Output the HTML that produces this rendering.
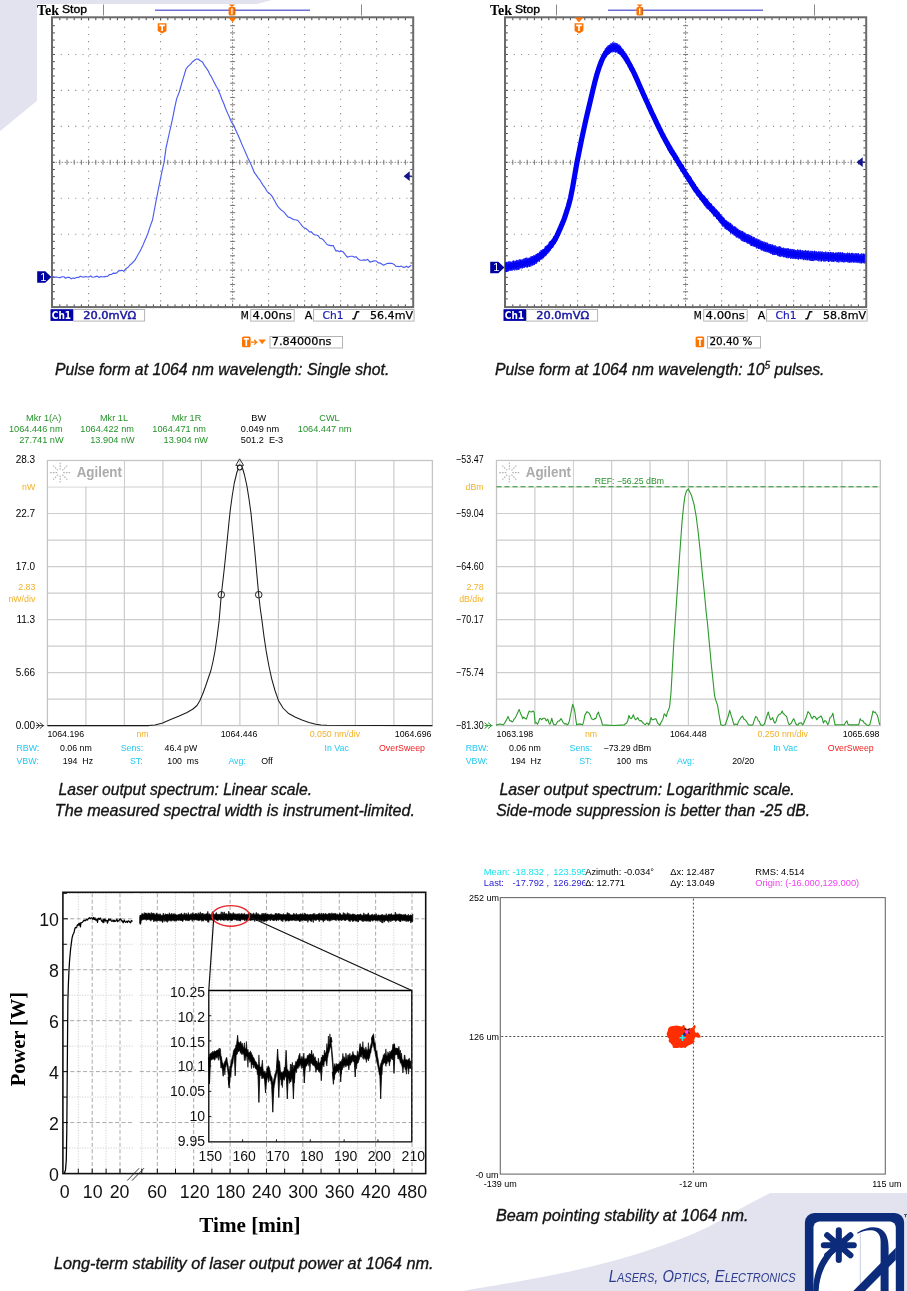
<!DOCTYPE html>
<html><head><meta charset="utf-8"><title>Laser characteristics</title>
<style>
html,body{margin:0;padding:0;background:#fff;}
body{width:907px;height:1291px;overflow:hidden;position:relative;}
svg{position:absolute;left:0;top:0;display:block;}
</style></head>
<body>
<svg width="907" height="1291" viewBox="0 0 907 1291">
<path d="M0,0 H272 L257,4 H37 V100.7 L0,131.3 Z" fill="#e3e3f0"/>
<path d="M463.8,1291 L471.8,1289.2 L495,1285.5 L519.4,1281.2 L545,1276.6 L571,1271.3 L595,1265.6 L618.6,1259.4 L641,1252.8 L662.3,1245.5 L679,1239.6 L694,1233.6 L706.5,1227.8 L717.9,1221.7 L729,1215.2 L738.8,1209.6 L750,1203.6 L760,1198.2 L770.2,1193 H907 V1291 Z" fill="#e3e3f0"/>
<rect x="37" y="4" width="378" height="344" fill="#fff"/>
<text x="37" y="15.2" font-family="Liberation Serif" font-weight="bold" font-size="14.5" textLength="22" lengthAdjust="spacingAndGlyphs" fill="#000">Tek</text>
<text x="62" y="13.3" font-family="Liberation Sans" font-size="11" textLength="25" lengthAdjust="spacingAndGlyphs" fill="#000" stroke="#000" stroke-width="0.35">Stop</text>
<line x1="103.5" y1="4.5" x2="103.5" y2="15.5" stroke="#8a8a8a" stroke-width="1"/>
<line x1="361.5" y1="4.5" x2="361.5" y2="15.5" stroke="#8a8a8a" stroke-width="1"/>
<line x1="155" y1="10.2" x2="310" y2="10.2" stroke="#6e6ed8" stroke-width="1.6"/>
<path d="M88.6,19.5V306.1M124.6,19.5V306.1M160.6,19.5V306.1M196.6,19.5V306.1M268.6,19.5V306.1M304.6,19.5V306.1M340.6,19.5V306.1M376.6,19.5V306.1M53.6,54.45H412.6M53.6,90.4H412.6M53.6,126.35H412.6M53.6,198.25H412.6M53.6,234.2H412.6M53.6,270.15H412.6" stroke="#8c8c8c" stroke-width="1.1" stroke-dasharray="1.1 6.1" fill="none"/>
<path d="M52.6,162.3H412.6 M232.6,18.5V306.1" stroke="#8a8a8a" stroke-width="1" stroke-dasharray="1.5 1.5" fill="none"/>
<path d="M59.8,159.8v5M67,159.8v5M74.2,159.8v5M81.4,159.8v5M88.6,159.8v5M95.8,159.8v5M103,159.8v5M110.2,159.8v5M117.4,159.8v5M124.6,159.8v5M131.8,159.8v5M139,159.8v5M146.2,159.8v5M153.4,159.8v5M160.6,159.8v5M167.8,159.8v5M175,159.8v5M182.2,159.8v5M189.4,159.8v5M196.6,159.8v5M203.8,159.8v5M211,159.8v5M218.2,159.8v5M225.4,159.8v5M232.6,159.8v5M239.8,159.8v5M247,159.8v5M254.2,159.8v5M261.4,159.8v5M268.6,159.8v5M275.8,159.8v5M283,159.8v5M290.2,159.8v5M297.4,159.8v5M304.6,159.8v5M311.8,159.8v5M319,159.8v5M326.2,159.8v5M333.4,159.8v5M340.6,159.8v5M347.8,159.8v5M355,159.8v5M362.2,159.8v5M369.4,159.8v5M376.6,159.8v5M383.8,159.8v5M391,159.8v5M398.2,159.8v5M405.4,159.8v5M230.1,25.69h5M230.1,32.88h5M230.1,40.07h5M230.1,47.26h5M230.1,54.45h5M230.1,61.64h5M230.1,68.83h5M230.1,76.02h5M230.1,83.21h5M230.1,90.4h5M230.1,97.59h5M230.1,104.78h5M230.1,111.97h5M230.1,119.16h5M230.1,126.35h5M230.1,133.54h5M230.1,140.73h5M230.1,147.92h5M230.1,155.11h5M230.1,162.3h5M230.1,169.49h5M230.1,176.68h5M230.1,183.87h5M230.1,191.06h5M230.1,198.25h5M230.1,205.44h5M230.1,212.63h5M230.1,219.82h5M230.1,227.01h5M230.1,234.2h5M230.1,241.39h5M230.1,248.58h5M230.1,255.77h5M230.1,262.96h5M230.1,270.15h5M230.1,277.34h5M230.1,284.53h5M230.1,291.72h5M230.1,298.91h5" stroke="#6a6a6a" stroke-width="0.9" fill="none"/>
<path d="M59.8,18v2.2M59.8,306.6v-2.2M67,18v2.2M67,306.6v-2.2M74.2,18v2.2M74.2,306.6v-2.2M81.4,18v2.2M81.4,306.6v-2.2M88.6,18v2.2M88.6,306.6v-2.2M95.8,18v2.2M95.8,306.6v-2.2M103,18v2.2M103,306.6v-2.2M110.2,18v2.2M110.2,306.6v-2.2M117.4,18v2.2M117.4,306.6v-2.2M124.6,18v2.2M124.6,306.6v-2.2M131.8,18v2.2M131.8,306.6v-2.2M139,18v2.2M139,306.6v-2.2M146.2,18v2.2M146.2,306.6v-2.2M153.4,18v2.2M153.4,306.6v-2.2M160.6,18v2.2M160.6,306.6v-2.2M167.8,18v2.2M167.8,306.6v-2.2M175,18v2.2M175,306.6v-2.2M182.2,18v2.2M182.2,306.6v-2.2M189.4,18v2.2M189.4,306.6v-2.2M196.6,18v2.2M196.6,306.6v-2.2M203.8,18v2.2M203.8,306.6v-2.2M211,18v2.2M211,306.6v-2.2M218.2,18v2.2M218.2,306.6v-2.2M225.4,18v2.2M225.4,306.6v-2.2M232.6,18v2.2M232.6,306.6v-2.2M239.8,18v2.2M239.8,306.6v-2.2M247,18v2.2M247,306.6v-2.2M254.2,18v2.2M254.2,306.6v-2.2M261.4,18v2.2M261.4,306.6v-2.2M268.6,18v2.2M268.6,306.6v-2.2M275.8,18v2.2M275.8,306.6v-2.2M283,18v2.2M283,306.6v-2.2M290.2,18v2.2M290.2,306.6v-2.2M297.4,18v2.2M297.4,306.6v-2.2M304.6,18v2.2M304.6,306.6v-2.2M311.8,18v2.2M311.8,306.6v-2.2M319,18v2.2M319,306.6v-2.2M326.2,18v2.2M326.2,306.6v-2.2M333.4,18v2.2M333.4,306.6v-2.2M340.6,18v2.2M340.6,306.6v-2.2M347.8,18v2.2M347.8,306.6v-2.2M355,18v2.2M355,306.6v-2.2M362.2,18v2.2M362.2,306.6v-2.2M369.4,18v2.2M369.4,306.6v-2.2M376.6,18v2.2M376.6,306.6v-2.2M383.8,18v2.2M383.8,306.6v-2.2M391,18v2.2M391,306.6v-2.2M398.2,18v2.2M398.2,306.6v-2.2M405.4,18v2.2M405.4,306.6v-2.2M52.6,25.69h2.2M412.6,25.69h-2.2M52.6,32.88h2.2M412.6,32.88h-2.2M52.6,40.07h2.2M412.6,40.07h-2.2M52.6,47.26h2.2M412.6,47.26h-2.2M52.6,54.45h2.2M412.6,54.45h-2.2M52.6,61.64h2.2M412.6,61.64h-2.2M52.6,68.83h2.2M412.6,68.83h-2.2M52.6,76.02h2.2M412.6,76.02h-2.2M52.6,83.21h2.2M412.6,83.21h-2.2M52.6,90.4h2.2M412.6,90.4h-2.2M52.6,97.59h2.2M412.6,97.59h-2.2M52.6,104.78h2.2M412.6,104.78h-2.2M52.6,111.97h2.2M412.6,111.97h-2.2M52.6,119.16h2.2M412.6,119.16h-2.2M52.6,126.35h2.2M412.6,126.35h-2.2M52.6,133.54h2.2M412.6,133.54h-2.2M52.6,140.73h2.2M412.6,140.73h-2.2M52.6,147.92h2.2M412.6,147.92h-2.2M52.6,155.11h2.2M412.6,155.11h-2.2M52.6,162.3h2.2M412.6,162.3h-2.2M52.6,169.49h2.2M412.6,169.49h-2.2M52.6,176.68h2.2M412.6,176.68h-2.2M52.6,183.87h2.2M412.6,183.87h-2.2M52.6,191.06h2.2M412.6,191.06h-2.2M52.6,198.25h2.2M412.6,198.25h-2.2M52.6,205.44h2.2M412.6,205.44h-2.2M52.6,212.63h2.2M412.6,212.63h-2.2M52.6,219.82h2.2M412.6,219.82h-2.2M52.6,227.01h2.2M412.6,227.01h-2.2M52.6,234.2h2.2M412.6,234.2h-2.2M52.6,241.39h2.2M412.6,241.39h-2.2M52.6,248.58h2.2M412.6,248.58h-2.2M52.6,255.77h2.2M412.6,255.77h-2.2M52.6,262.96h2.2M412.6,262.96h-2.2M52.6,270.15h2.2M412.6,270.15h-2.2M52.6,277.34h2.2M412.6,277.34h-2.2M52.6,284.53h2.2M412.6,284.53h-2.2M52.6,291.72h2.2M412.6,291.72h-2.2M52.6,298.91h2.2M412.6,298.91h-2.2" stroke="#444" stroke-width="1" fill="none"/>
<rect x="52" y="17.3" width="361.2" height="289.8" fill="none" stroke="#6a6a6a" stroke-width="2"/>
<path d="M52.6,276.53 L54.48,277.18 L56.36,276.97 L58.24,277.49 L60.12,277.63 L62,276.72 L63.83,276.71 L65.67,278.27 L67.5,277.32 L69.33,277.36 L71.17,278.81 L73,277.95 L74.83,278.34 L76.67,277.42 L78.5,277.45 L80.33,276.3 L82.17,276.91 L84,277.06 L85.66,276.52 L87.33,276.98 L88.99,276.93 L90.65,275.92 L92.31,277.24 L93.97,277.01 L95.64,276.57 L97.3,276.16 L99.04,277.46 L100.78,276.55 L102.52,276.79 L104.26,276.88 L106,276.39 L107.8,276.08 L109.6,274.45 L111.4,274.5 L113.2,273.18 L115,273.38 L116.76,272.84 L118.52,271 L120.28,270.62 L122.04,270.33 L123.8,271.24 L126,268.59 L128.2,267.23 L129.85,265.02 L131.5,263.76 L133.15,262.03 L134.8,260.38 L136.45,257.54 L138.1,254.52 L139.75,251.75 L141.4,248.55 L143.05,244.89 L144.7,240.99 L146.35,237.24 L148,233.14 L150.25,226.08 L152.5,219.99 L154.15,211.22 L155.8,202.32 L158,191.06 L160.2,180.17 L162.1,170.97 L164,162.67 L166,148.06 L167.75,140.13 L169.5,132.25 L171.15,125.08 L172.8,117.39 L174.75,107.37 L176.7,98.64 L179.4,91.73 L181.05,85.75 L182.7,80.09 L184.35,74.69 L186,69 L188.2,66.14 L190.4,64.39 L192.6,61.69 L194.8,59.97 L196.45,59.11 L198.1,59 L200.3,60.73 L202.5,62 L204.33,65.37 L206.17,67.78 L208,70.56 L209.67,74.1 L211.33,76.76 L213,80.01 L214.67,83.29 L216.33,86.57 L218,89.32 L219.93,93.93 L221.85,99.29 L223.77,103.55 L225.7,108.77 L227.53,113.12 L229.37,117.1 L231.2,121.57 L233.4,124.92 L235.23,129.05 L237.07,133.04 L238.9,137.05 L240.55,140.97 L242.2,145.1 L243.85,148.63 L245.5,152.44 L247.75,157.63 L250,162.19 L252.2,167.19 L254.4,172.68 L256.27,175.08 L258.13,177.87 L260,180.21 L261.75,183.18 L263.5,185.96 L265.25,188.17 L267,191.29 L268.77,193.07 L270.53,194.38 L272.3,196.6 L274.07,199.71 L275.83,203.11 L277.6,206.08 L279.37,208.13 L281.13,209.92 L282.9,211.12 L284.67,212.88 L286.43,215.11 L288.2,217.07 L289.97,217.4 L291.73,218.42 L293.5,219.57 L295.7,219.78 L297.9,220.56 L300.1,223.26 L302.3,226.16 L304.08,227.81 L305.86,228.52 L307.64,229.9 L309.42,231.85 L311.2,231.75 L312.95,233.62 L314.7,234.82 L316.45,234.96 L318.2,235.7 L319.97,238.21 L321.73,238.66 L323.5,240.04 L325.27,242.25 L327.03,244.49 L328.8,245.18 L331,245.58 L333.2,245.6 L335.9,250.9 L337.65,250.61 L339.4,251.79 L341.15,250.98 L342.9,251.71 L345.1,254.47 L347.3,257.09 L349.06,256.49 L350.82,256.27 L352.58,256.26 L354.34,257.17 L356.1,256.74 L358.17,259.02 L360.23,260.24 L362.3,260.23 L364.07,259.83 L365.83,260.22 L367.6,259.36 L370.2,262.25 L372.27,261.32 L374.33,260.83 L376.4,261.03 L378.17,262.9 L379.95,262.94 L381.73,264.05 L383.5,265.15 L385.57,264.26 L387.63,263.34 L389.7,263.36 L391.9,263.33 L394.1,264.41 L395.85,266.3 L397.6,266.38 L399.35,266.78 L401.1,265.98 L402.88,267.14 L404.65,267.32 L406.43,266.27 L408.2,267.44 L411.3,265.3" stroke="#4b5cf2" stroke-width="1.15" fill="none" stroke-linejoin="round"/>
<path d="M37.2,271.2 H45.3 L51.4,277 L45.3,282.8 H37.2 Z" fill="#0000a0"/>
<text x="43.3" y="280.9" text-anchor="middle" font-family="Liberation Sans" font-size="11" fill="#fff">1</text>
<path d="M404.6,176.2 l4.5,-3.6 v7.2 z M408.6,176.2 h3.2" fill="#14148c" stroke="#14148c" stroke-width="1.2"/>
<path d="M228.9,4.4 h6 l-3,2.8 z" fill="#ff7400"/><rect x="228.6" y="7" width="6.6" height="8.6" rx="1.6" fill="#ff7400"/><line x1="231.9" y1="8.2" x2="231.9" y2="14.3" stroke="#fff" stroke-width="1.3"/><line x1="234.9" y1="7" x2="234.9" y2="15" stroke="#8a4a10" stroke-width="0.8" opacity="0.6"/>
<path d="M228.2,17.6 h8.6 l-4.3,4.6 z" fill="#ff7400"/>
<path d="M157.7,23.2 H166.5 V31.1 L162.1,33.6 L157.7,31.1 V23.2 Z" fill="#ff7400"/><path d="M159.3,25.4 h5.6 M162.1,25.4 v5.6" stroke="#fff" stroke-width="1.7" fill="none"/>
<rect x="50.5" y="309.2" width="22.6" height="11.7" fill="#0000a8"/>
<text x="51.8" y="318.7" font-family="DejaVu Sans" font-size="10.5" fill="#fff" textLength="19.3" lengthAdjust="spacingAndGlyphs" font-weight="bold">Ch1</text>
<rect x="73.6" y="309.5" width="71" height="11.6" fill="#fff" stroke="#b4b4b4" stroke-width="1"/>
<text x="83.2" y="318.7" font-family="DejaVu Sans" font-size="10.5" fill="#1818a0" textLength="53" lengthAdjust="spacingAndGlyphs" stroke="#1818a0" stroke-width="0.45">20.0mVΩ</text>
<text x="240.8" y="318.7" font-family="DejaVu Sans" font-size="10.5" fill="#000" textLength="8" lengthAdjust="spacingAndGlyphs" stroke="#000" stroke-width="0.25">M</text>
<rect x="250.7" y="309.5" width="43.5" height="11.6" fill="#fff" stroke="#b4b4b4" stroke-width="1"/>
<text x="252.6" y="318.7" font-family="DejaVu Sans" font-size="10.5" fill="#000" textLength="39.3" lengthAdjust="spacingAndGlyphs" stroke="#000" stroke-width="0.25">4.00ns</text>
<text x="304.7" y="318.7" font-family="DejaVu Sans" font-size="10.5" fill="#000" textLength="7.6" lengthAdjust="spacingAndGlyphs" stroke="#000" stroke-width="0.25">A</text>
<rect x="313.6" y="309.5" width="100.5" height="11.6" fill="#fff" stroke="#b4b4b4" stroke-width="1"/>
<text x="322.6" y="318.7" font-family="DejaVu Sans" font-size="10.5" fill="#1a1ab4" textLength="21" lengthAdjust="spacingAndGlyphs" stroke="#1a1ab4" stroke-width="0.2">Ch1</text>
<path d="M352.3,318.7 h2.2 l2.3,-7 h2.6" stroke="#111" stroke-width="1.6" fill="none"/>
<text x="370" y="318.7" font-family="DejaVu Sans" font-size="10.5" fill="#000" textLength="43" lengthAdjust="spacingAndGlyphs" stroke="#000" stroke-width="0.25">56.4mV</text>
<rect x="242" y="336.6" width="8.6" height="10.6" rx="1.5" fill="#ff7400"/><path d="M243.8,338.9 h5 M246.3,338.9 v7" stroke="#fff" stroke-width="1.7" fill="none"/>
<path d="M251,342.2 h5.5 M254.2,339.8 l2.6,2.4 l-2.6,2.4" stroke="#ff7a00" stroke-width="1.2" fill="none"/>
<path d="M258.5,339.6 h7.4 l-3.7,4.6 z" fill="#ff7a00"/>
<rect x="270" y="336.5" width="72.5" height="11.5" fill="#fff" stroke="#b4b4b4" stroke-width="1"/>
<text x="271.8" y="345.4" font-family="DejaVu Sans" font-size="10.5" fill="#000" textLength="59.6" lengthAdjust="spacingAndGlyphs" stroke="#000" stroke-width="0.25">7.84000ns</text>
<rect x="490" y="4" width="378" height="344" fill="#fff"/>
<text x="490" y="15.2" font-family="Liberation Serif" font-weight="bold" font-size="14.5" textLength="22" lengthAdjust="spacingAndGlyphs" fill="#000">Tek</text>
<text x="515" y="13.3" font-family="Liberation Sans" font-size="11" textLength="25" lengthAdjust="spacingAndGlyphs" fill="#000" stroke="#000" stroke-width="0.35">Stop</text>
<line x1="556.5" y1="4.5" x2="556.5" y2="15.5" stroke="#8a8a8a" stroke-width="1"/>
<line x1="814.5" y1="4.5" x2="814.5" y2="15.5" stroke="#8a8a8a" stroke-width="1"/>
<line x1="608" y1="10.2" x2="763" y2="10.2" stroke="#6e6ed8" stroke-width="1.6"/>
<path d="M541.6,19.5V306.1M577.6,19.5V306.1M613.6,19.5V306.1M649.6,19.5V306.1M721.6,19.5V306.1M757.6,19.5V306.1M793.6,19.5V306.1M829.6,19.5V306.1M506.6,54.45H865.6M506.6,90.4H865.6M506.6,126.35H865.6M506.6,198.25H865.6M506.6,234.2H865.6M506.6,270.15H865.6" stroke="#8c8c8c" stroke-width="1.1" stroke-dasharray="1.1 6.1" fill="none"/>
<path d="M505.6,162.3H865.6 M685.6,18.5V306.1" stroke="#8a8a8a" stroke-width="1" stroke-dasharray="1.5 1.5" fill="none"/>
<path d="M512.8,159.8v5M520,159.8v5M527.2,159.8v5M534.4,159.8v5M541.6,159.8v5M548.8,159.8v5M556,159.8v5M563.2,159.8v5M570.4,159.8v5M577.6,159.8v5M584.8,159.8v5M592,159.8v5M599.2,159.8v5M606.4,159.8v5M613.6,159.8v5M620.8,159.8v5M628,159.8v5M635.2,159.8v5M642.4,159.8v5M649.6,159.8v5M656.8,159.8v5M664,159.8v5M671.2,159.8v5M678.4,159.8v5M685.6,159.8v5M692.8,159.8v5M700,159.8v5M707.2,159.8v5M714.4,159.8v5M721.6,159.8v5M728.8,159.8v5M736,159.8v5M743.2,159.8v5M750.4,159.8v5M757.6,159.8v5M764.8,159.8v5M772,159.8v5M779.2,159.8v5M786.4,159.8v5M793.6,159.8v5M800.8,159.8v5M808,159.8v5M815.2,159.8v5M822.4,159.8v5M829.6,159.8v5M836.8,159.8v5M844,159.8v5M851.2,159.8v5M858.4,159.8v5M683.1,25.69h5M683.1,32.88h5M683.1,40.07h5M683.1,47.26h5M683.1,54.45h5M683.1,61.64h5M683.1,68.83h5M683.1,76.02h5M683.1,83.21h5M683.1,90.4h5M683.1,97.59h5M683.1,104.78h5M683.1,111.97h5M683.1,119.16h5M683.1,126.35h5M683.1,133.54h5M683.1,140.73h5M683.1,147.92h5M683.1,155.11h5M683.1,162.3h5M683.1,169.49h5M683.1,176.68h5M683.1,183.87h5M683.1,191.06h5M683.1,198.25h5M683.1,205.44h5M683.1,212.63h5M683.1,219.82h5M683.1,227.01h5M683.1,234.2h5M683.1,241.39h5M683.1,248.58h5M683.1,255.77h5M683.1,262.96h5M683.1,270.15h5M683.1,277.34h5M683.1,284.53h5M683.1,291.72h5M683.1,298.91h5" stroke="#6a6a6a" stroke-width="0.9" fill="none"/>
<path d="M512.8,18v2.2M512.8,306.6v-2.2M520,18v2.2M520,306.6v-2.2M527.2,18v2.2M527.2,306.6v-2.2M534.4,18v2.2M534.4,306.6v-2.2M541.6,18v2.2M541.6,306.6v-2.2M548.8,18v2.2M548.8,306.6v-2.2M556,18v2.2M556,306.6v-2.2M563.2,18v2.2M563.2,306.6v-2.2M570.4,18v2.2M570.4,306.6v-2.2M577.6,18v2.2M577.6,306.6v-2.2M584.8,18v2.2M584.8,306.6v-2.2M592,18v2.2M592,306.6v-2.2M599.2,18v2.2M599.2,306.6v-2.2M606.4,18v2.2M606.4,306.6v-2.2M613.6,18v2.2M613.6,306.6v-2.2M620.8,18v2.2M620.8,306.6v-2.2M628,18v2.2M628,306.6v-2.2M635.2,18v2.2M635.2,306.6v-2.2M642.4,18v2.2M642.4,306.6v-2.2M649.6,18v2.2M649.6,306.6v-2.2M656.8,18v2.2M656.8,306.6v-2.2M664,18v2.2M664,306.6v-2.2M671.2,18v2.2M671.2,306.6v-2.2M678.4,18v2.2M678.4,306.6v-2.2M685.6,18v2.2M685.6,306.6v-2.2M692.8,18v2.2M692.8,306.6v-2.2M700,18v2.2M700,306.6v-2.2M707.2,18v2.2M707.2,306.6v-2.2M714.4,18v2.2M714.4,306.6v-2.2M721.6,18v2.2M721.6,306.6v-2.2M728.8,18v2.2M728.8,306.6v-2.2M736,18v2.2M736,306.6v-2.2M743.2,18v2.2M743.2,306.6v-2.2M750.4,18v2.2M750.4,306.6v-2.2M757.6,18v2.2M757.6,306.6v-2.2M764.8,18v2.2M764.8,306.6v-2.2M772,18v2.2M772,306.6v-2.2M779.2,18v2.2M779.2,306.6v-2.2M786.4,18v2.2M786.4,306.6v-2.2M793.6,18v2.2M793.6,306.6v-2.2M800.8,18v2.2M800.8,306.6v-2.2M808,18v2.2M808,306.6v-2.2M815.2,18v2.2M815.2,306.6v-2.2M822.4,18v2.2M822.4,306.6v-2.2M829.6,18v2.2M829.6,306.6v-2.2M836.8,18v2.2M836.8,306.6v-2.2M844,18v2.2M844,306.6v-2.2M851.2,18v2.2M851.2,306.6v-2.2M858.4,18v2.2M858.4,306.6v-2.2M505.6,25.69h2.2M865.6,25.69h-2.2M505.6,32.88h2.2M865.6,32.88h-2.2M505.6,40.07h2.2M865.6,40.07h-2.2M505.6,47.26h2.2M865.6,47.26h-2.2M505.6,54.45h2.2M865.6,54.45h-2.2M505.6,61.64h2.2M865.6,61.64h-2.2M505.6,68.83h2.2M865.6,68.83h-2.2M505.6,76.02h2.2M865.6,76.02h-2.2M505.6,83.21h2.2M865.6,83.21h-2.2M505.6,90.4h2.2M865.6,90.4h-2.2M505.6,97.59h2.2M865.6,97.59h-2.2M505.6,104.78h2.2M865.6,104.78h-2.2M505.6,111.97h2.2M865.6,111.97h-2.2M505.6,119.16h2.2M865.6,119.16h-2.2M505.6,126.35h2.2M865.6,126.35h-2.2M505.6,133.54h2.2M865.6,133.54h-2.2M505.6,140.73h2.2M865.6,140.73h-2.2M505.6,147.92h2.2M865.6,147.92h-2.2M505.6,155.11h2.2M865.6,155.11h-2.2M505.6,162.3h2.2M865.6,162.3h-2.2M505.6,169.49h2.2M865.6,169.49h-2.2M505.6,176.68h2.2M865.6,176.68h-2.2M505.6,183.87h2.2M865.6,183.87h-2.2M505.6,191.06h2.2M865.6,191.06h-2.2M505.6,198.25h2.2M865.6,198.25h-2.2M505.6,205.44h2.2M865.6,205.44h-2.2M505.6,212.63h2.2M865.6,212.63h-2.2M505.6,219.82h2.2M865.6,219.82h-2.2M505.6,227.01h2.2M865.6,227.01h-2.2M505.6,234.2h2.2M865.6,234.2h-2.2M505.6,241.39h2.2M865.6,241.39h-2.2M505.6,248.58h2.2M865.6,248.58h-2.2M505.6,255.77h2.2M865.6,255.77h-2.2M505.6,262.96h2.2M865.6,262.96h-2.2M505.6,270.15h2.2M865.6,270.15h-2.2M505.6,277.34h2.2M865.6,277.34h-2.2M505.6,284.53h2.2M865.6,284.53h-2.2M505.6,291.72h2.2M865.6,291.72h-2.2M505.6,298.91h2.2M865.6,298.91h-2.2" stroke="#444" stroke-width="1" fill="none"/>
<rect x="505" y="17.3" width="361.2" height="289.8" fill="none" stroke="#6a6a6a" stroke-width="2"/>
<path d="M505.5,267 L507.62,266.74 L509.75,266.36 L511.88,265.93 L514,265.5 L516,265.11 L518,264.71 L520,264.26 L522,263.7 L524.2,263.21 L526.4,262.7 L528.6,262.11 L530.8,261.37 L533,260.4 L535.2,259.23 L537.4,257.9 L539.6,256.39 L541.8,254.66 L544,252.7 L546.2,250.52 L548.4,248.14 L550.6,245.53 L552.8,242.66 L555,239.5 L557.25,235.05 L559.5,230.1 L561.75,224.88 L564,219.6 L566.2,212.91 L568.4,206 L570.6,197.6 L572.73,186.74 L574.87,174.4 L577,162.3 L579.27,150.94 L581.53,139.82 L583.8,129.2 L586,119.26 L588.2,109.82 L590.4,100.6 L592.6,91.25 L594.8,82.12 L597,74 L599.2,67.13 L601.4,61.28 L603.6,56.5 L605.83,52.94 L608.07,50.46 L610.3,48.7 L612.5,47.28 L614.7,47.4 L616.9,48.01 L619.1,49.28 L621.3,52 L623.5,54.6 L625.7,57.82 L627.9,61.52 L630.1,65.53 L632.3,69.7 L634.5,74.14 L636.7,78.95 L638.9,83.97 L641.1,89.04 L643.3,94 L645.52,98.88 L647.74,103.79 L649.96,108.68 L652.18,113.5 L654.4,118.2 L656.6,122.81 L658.8,127.35 L661,131.81 L663.2,136.13 L665.4,140.3 L667.6,144.28 L669.8,148.11 L672,151.81 L674.2,155.42 L676.4,159 L678.52,162.52 L680.64,165.95 L682.76,169.32 L684.88,172.66 L687,176 L689.2,179.4 L691.4,182.85 L693.6,186.25 L695.8,189.5 L698,192.5 L700,195.28 L702,197.91 L704,200.34 L706,202.55 L708,204.5 L710.5,207.54 L713,210.6 L715.2,212.69 L717.4,215.17 L719.6,217.81 L721.8,220.4 L724,222.7 L726.2,224.71 L728.4,226.57 L730.6,228.3 L732.8,229.94 L735,231.5 L737.2,232.96 L739.4,234.31 L741.6,235.58 L743.8,236.79 L746,238 L748.2,239.2 L750.4,240.36 L752.6,241.49 L754.8,242.57 L757,243.6 L759.2,244.57 L761.4,245.5 L763.6,246.38 L765.8,247.21 L768,248 L770.2,248.75 L772.4,249.45 L774.6,250.1 L776.8,250.72 L779,251.3 L781.2,251.84 L783.4,252.34 L785.6,252.81 L787.8,253.23 L790,253.6 L792.2,253.91 L794.4,254.17 L796.6,254.39 L798.8,254.59 L801,254.8 L803.26,255.02 L805.52,255.23 L807.78,255.43 L810.04,255.62 L812.3,255.8 L814.44,255.96 L816.58,256.11 L818.72,256.25 L820.86,256.38 L823,256.5 L825.28,256.61 L827.56,256.7 L829.84,256.79 L832.12,256.88 L834.4,257 L836.67,257.12 L838.93,257.24 L841.2,257.38 L843.47,257.52 L845.73,257.66 L848,257.8 L850.06,257.91 L852.12,258.02 L854.19,258.14 L856.25,258.25 L858.31,258.36 L860.38,258.46 L862.44,258.54 L864.5,258.6" stroke="#0000f4" stroke-width="5.2" fill="none" stroke-linejoin="round" stroke-linecap="butt"/>
<path d="M490.2,261.7 H498.3 L504.4,267.5 L498.3,273.3 H490.2 Z" fill="#0000a0"/>
<text x="496.3" y="271.4" text-anchor="middle" font-family="Liberation Sans" font-size="11" fill="#fff">1</text>
<path d="M857.6,162.2 l4.5,-3.6 v7.2 z M861.6,162.2 h3.2" fill="#14148c" stroke="#14148c" stroke-width="1.2"/>
<path d="M505.8,262.16V271.94M506.5,261.86V272.12M507.2,261.84V272M507.9,262.66V271.3M508.6,261.35V271.42M509.3,261.28V270.6M510,261.7V270.63M510.7,261.47V270.92M511.4,262.01V270.31M512.1,261.52V271.08M512.8,260.74V269.95M513.5,260.56V269.78M514.2,260.66V269.62M514.9,261.32V270.45M515.6,260.91V269.46M516.3,259.77V270.18M517,260.54V270.16M517.7,260.07V269.65M518.4,260.36V269.85M519.1,259.58V269.73M519.8,259.15V268.7M520.5,259.67V268.35M521.2,259.75V268.03M521.9,259.34V268.52M522.6,259.56V268.44M523.3,258.97V267.81M524,258.19V267.88M524.7,258.68V267.72M525.4,258.02V267.01M526.1,257.5V266.8M526.8,257.63V267.7M527.5,258.4V267.44M528.2,257.75V266.98M528.9,258.01V266.08M529.6,257.56V267.04M530.3,257.3V266.53M531,256.08V266.51M531.7,256.55V265.46M532.4,256.01V265.7M533.1,256.21V265.32M533.8,254.95V265.11M534.5,255.57V264.85M535.2,255.11V263.67M535.9,254.03V264.02M536.6,253.96V263.61M537.3,253.26V262.37M538,253.1V261.74M538.7,252.93V261.22M539.4,251.64V261.83M540.1,251.8V260.08M540.8,250.19V260.17M541.5,250.38V259.22M542.2,249.55V259.4M542.9,249.12V258.26M543.6,249V258.27M544.3,248.37V257.06M545,246.64V255.9M545.7,246.08V256.27M546.4,245.49V255.34M547.1,245.43V254.14M547.8,244.61V253.91M548.5,243.64V252.61M549.2,241.92V252.32M549.9,241.12V250.97M550.6,240.89V250.47M551.3,240.02V249.02M552,239.21V247.92M552.7,238.3V248.08M553.4,236.58V246.64M554.1,236.18V245.27M554.8,235.68V244.15M555.5,233.55V243.69M556.2,232.73V242.22M556.9,230.77V240.68M557.6,229.44V239.29M558.3,228.31V237.7M559,226.87V235.86M559.7,224.64V234.54M560.4,223.65V233.26M561.1,221.56V231.16M561.8,220.75V229.47M562.5,218.79V227.99M563.2,216.87V226.53M563.9,214.99V224.87M564.6,213.28V222.57M565.3,210.65V220.68M566,209.06V218.61M566.7,206.28V216.3M567.4,203.98V214.49M568.1,202.33V211.69M568.8,200.4V209.7M569.5,196.84V206.68M570.2,194.39V204.23M570.9,191.28V200.45M571.6,187.79V197.56M572.3,184.25V193.67M573,180.43V190.25M573.7,176.4V186.16M574.4,173.1V181.34M575.1,168.46V177.88M575.8,164.69V173.86M576.5,160.2V169.08M577.2,156.68V165.59M577.9,153.7V161.95M578.6,149.85V158.5M579.3,146.52V154.82M580,142.7V151.8M580.7,139.07V148.63M581.4,136.15V145.64M582.1,133.11V141.63M582.8,129.44V138.34M583.5,126.42V135.65M584.2,122.86V131.39M584.9,119.35V128.27M585.6,116.31V125.46M586.3,113.19V123.19M587,109.86V119.47M587.7,106.88V116.77M588.4,104.5V113.16M589.1,101.26V110.77M589.8,97.86V108.37M590.5,95.39V104.64M591.2,92.06V101.22M591.9,90.1V98.97M592.6,86.45V95.43M593.3,83.46V93.44M594,80.87V89.92M594.7,78.22V86.9M595.4,74.51V84.26M596.1,71.9V82.34M596.8,69.9V79.01M597.5,67.08V77M598.2,65.59V74.55M598.9,62.73V72.65M599.6,61.62V70.61M600.3,59.92V68.88M601,57.69V66.65M601.7,55.55V65.64M602.4,54.95V63.66M603.1,53.13V62.7M603.8,51.11V60.45M604.5,50.57V59.11M605.2,48.54V58.21M605.9,48.06V57.47M606.6,47.15V56.77M607.3,46.25V55.37M608,45.53V54.91M608.7,45.21V54.34M609.4,44.96V54.03M610.1,44.23V53.31M610.8,43.26V53M611.5,43.67V52.05M612.2,42.78V52.56M612.9,42.03V51.9M613.6,43.14V52.17M614.3,42.72V52.02M615,42.55V52.3M615.7,43.02V52.83M616.4,43.34V52.35M617.1,42.98V52.34M617.8,44.02V53.48M618.5,44.74V53.91M619.2,44.46V53.93M619.9,45.68V55.07M620.6,45.74V55.11M621.3,47.38V56.71M622,48.1V57.18M622.7,49.37V58.33M623.4,49.41V58.55M624.1,51.12V60.49M624.8,51.41V61.3M625.5,53.47V62.44M626.2,53.35V63.92M626.9,54.88V63.85M627.6,55.9V65.27M628.3,57.39V67.46M629,58.57V67.67M629.7,60.4V69.98M630.4,61.9V70.88M631.1,62.88V71.62M631.8,63.94V72.8M632.5,65.94V74.58M633.2,67.37V75.54M633.9,68.14V77.85M634.6,69.21V78.53M635.3,71.29V80.26M636,72.61V82.02M636.7,73.73V83.44M637.4,76.46V85.44M638.1,77.93V86.95M638.8,79.08V88.92M639.5,80.63V90.16M640.2,82.63V91.69M640.9,84.25V93.56M641.6,85.51V94.36M642.3,87.47V96.25M643,88.38V97.57M643.7,89.95V99.73M644.4,92.3V101.28M645.1,93.83V102.12M645.8,94.73V103.81M646.5,95.91V105.67M647.2,98.17V107.63M647.9,100.1V109.08M648.6,101.62V109.88M649.3,101.99V112.11M650,104.47V112.91M650.7,105.03V115.16M651.4,106.75V115.99M652.1,108.51V117.78M652.8,110.52V119.26M653.5,111.51V120.76M654.2,113.28V121.96M654.9,114.17V124.09M655.6,115.67V125.28M656.3,117.08V126.86M657,118.87V128.39M657.7,120.13V129.61M658.4,122.41V130.58M659.1,123.7V132.02M659.8,124.24V134.02M660.5,125.82V134.8M661.2,127.59V137.36M661.9,128.79V138.15M662.6,130.36V139.1M663.3,132.12V140.53M664,133.18V142.17M664.7,133.85V143.19M665.4,135.97V144.66M666.1,137.38V145.96M666.8,138.55V147.48M667.5,140.07V149.31M668.2,140.86V150.56M668.9,141.67V151.44M669.6,143.15V152.99M670.3,144.8V153.83M671,145.76V155.01M671.7,146.36V155.52M672.4,148.21V156.5M673.1,149.32V157.72M673.8,150.25V160.04M674.5,151.44V160.32M675.2,152.44V161.42M675.9,153.24V163.12M676.6,155.12V163.65M677.3,155.63V165.73M678,156.82V166.22M678.7,157.54V166.82M679.4,159.87V168.96M680.1,160.55V169.14M680.8,161.49V171.49M681.5,162.64V171.77M682.2,164.31V172.52M682.9,164.37V174.18M683.6,165.43V174.71M684.3,167.43V175.81M685,168.33V176.93M685.7,169.62V178.48M686.4,170.66V179.12M687.1,172.1V181.42M687.8,172.99V181.89M688.5,173.79V183M689.2,175.29V183.81M689.9,176.36V185.21M690.6,176.4V186.38M691.3,177.58V186.97M692,179.76V188.49M692.7,180.24V189.61M693.4,181.45V190.76M694.1,182.06V192.19M694.8,183.64V192.63M695.5,183.99V193.36M696.2,185.91V194.47M696.9,186.92V196.04M697.6,186.91V196.38M698.3,188.76V197.03M699,189.59V198.02M699.7,190.32V199.62M700.4,191.5V199.9M701.1,191.84V200.81M701.8,193.39V202.02M702.5,194.05V202.66M703.2,194.85V203.8M703.9,195.25V204.95M704.6,195.86V205.88M705.3,196.82V206.55M706,197.97V207.61M706.7,198.41V208.5M707.4,199V208.86M708.1,200.33V209.73M708.8,201.25V209.91M709.5,202.49V210.79M710.2,202.92V212.14M710.9,203.54V212M711.6,203.63V213.35M712.3,205.45V213.55M713,206.43V215.06M713.7,206.09V216.44M714.4,207.08V216.17M715.1,208.03V217.05M715.8,208.91V217.35M716.5,209.36V219.2M717.2,209.99V219.05M717.9,211.07V219.98M718.6,211.68V221.18M719.3,212.23V222.48M720,214.14V222.7M720.7,213.93V223.72M721.4,215.38V224.51M722.1,215.73V225.95M722.8,216.8V226.75M723.5,217.44V226.35M724.2,217.83V227.43M724.9,219.47V228.81M725.6,220.13V228.93M726.3,220.17V229.94M727,220.89V229.68M727.7,221.63V230.25M728.4,221.84V231.03M729.1,222.16V231.45M729.8,223.23V232.01M730.5,222.95V233.32M731.2,223.65V233.56M731.9,224.76V233.47M732.6,224.71V234.43M733.3,226.25V234.52M734,226.67V235.73M734.7,226.12V235.55M735.4,226.74V236.2M736.1,227.36V237.37M736.8,227.9V237.75M737.5,228.66V237.16M738.2,228.92V238.35M738.9,229.77V238.52M739.6,230.01V238.46M740.3,230.43V239.33M741,230.62V240.15M741.7,231.11V240.91M742.4,230.96V241.22M743.1,231.51V241.28M743.8,232.1V241.83M744.5,232.71V241.95M745.2,232.68V242.24M745.9,233.58V242.05M746.6,234.22V242.79M747.3,233.96V243.7M748,234.16V243.49M748.7,234.26V243.82M749.4,234.91V243.93M750.1,235.23V245.08M750.8,235.33V245.74M751.5,236.04V246.02M752.2,236.33V246.08M752.9,237.37V246.31M753.6,236.82V246.3M754.3,237.06V247.04M755,238.16V246.67M755.7,238.49V247.23M756.4,238.48V248.49M757.1,238.46V248.44M757.8,239.46V248.1M758.5,239.37V248.99M759.2,239.64V249.06M759.9,239.72V249.15M760.6,240.77V249.52M761.3,240.65V250.62M762,241.53V250.57M762.7,241.03V250.32M763.4,242.22V251.03M764.1,241.49V251.71M764.8,241.89V251.38M765.5,242.55V251.79M766.2,242.18V251.75M766.9,243.24V252.4M767.6,242.6V252.1M768.3,244.06V252.25M769,243.61V253.13M769.7,244.34V252.83M770.4,244.04V253.65M771.1,244.14V253.99M771.8,245.18V253.89M772.5,244.39V254.72M773.2,245.28V254.8M773.9,245.06V255.1M774.6,245.81V255.01M775.3,245.21V254.93M776,246.37V254.75M776.7,246.49V254.82M777.4,246.69V255.68M778.1,246.93V256.05M778.8,246.29V256.31M779.5,246.38V256.35M780.2,246.4V256.84M780.9,246.96V257.02M781.6,247.8V256.07M782.3,248.01V256.37M783,247.77V256.85M783.7,247.53V257.38M784.4,248.45V257.08M785.1,248V257.19M785.8,248.69V257.62M786.5,248.5V257.87M787.2,248.47V258.37M787.9,248.02V257.34M788.6,248.38V258.31M789.3,249.1V257.64M790,248.98V258.06M790.7,248.75V258.9M791.4,249.31V258.19M792.1,249.25V258.81M792.8,248.96V258.74M793.5,249.69V258.51M794.2,249.05V258.82M794.9,250.16V258.77M795.6,249.98V259.16M796.3,250.26V258.71M797,250.3V259.05M797.7,249.21V259.19M798.4,250.05V259.77M799.1,250.5V259.08M799.8,249.63V258.69M800.5,249.75V259.22M801.2,250.8V259.15M801.9,250.29V259.38M802.6,250.28V259.02M803.3,250.74V260.29M804,250.51V259.7M804.7,251.04V259.52M805.4,249.98V260.11M806.1,250.62V259.35M806.8,250.83V260.36M807.5,250.84V260.18M808.2,250.29V260.31M808.9,250.7V259.57M809.6,251.56V260.59M810.3,251.11V260.78M811,250.63V260.89M811.7,251.26V261.05M812.4,250.82V260.97M813.1,251.67V260.88M813.8,251.37V261.18M814.5,250.67V260.25M815.2,251.47V260.37M815.9,251.45V260.44M816.6,251.25V260.27M817.3,251.94V260.75M818,252.11V260.7M818.7,251.08V261.4M819.4,252.04V260.31M820.1,251.26V261.58M820.8,251.6V260.55M821.5,252.11V261.61M822.2,251.24V260.5M822.9,252.25V261.05M823.6,252.18V261.51M824.3,252.08V261.57M825,252.4V261.27M825.7,251.36V261.54M826.4,252.54V260.8M827.1,251.85V261.17M827.8,252.23V261.33M828.5,251.98V261.99M829.2,252.45V261.5M829.9,252.45V261.5M830.6,251.87V260.99M831.3,252.22V261.77M832,252.87V261.88M832.7,252.37V261.57M833.4,252.15V261.98M834.1,252.91V261.63M834.8,252.97V261.52M835.5,252.6V261.08M836.2,252.7V261.68M836.9,252.28V262.33M837.6,252.69V261.86M838.3,252.28V262.43M839,252.01V262.53M839.7,252.9V261.51M840.4,252.12V261.43M841.1,252.79V262.33M841.8,252.73V261.92M842.5,252.26V261.85M843.2,252.79V262.58M843.9,253.37V262.01M844.6,252.95V262.33M845.3,253.37V262.23M846,253.6V261.79M846.7,253.28V261.91M847.4,252.51V262.11M848.1,253.45V262.82M848.8,252.88V262.18M849.5,252.8V262.69M850.2,253.41V262.73M850.9,253.63V262.29M851.6,252.85V262.56M852.3,252.86V262.26M853,253.89V262.14M853.7,253.15V262.84M854.4,254.13V262.2M855.1,253.12V262.83M855.8,253.09V262.28M856.5,253.5V262.42M857.2,253.36V263.1M857.9,253.54V262.63M858.6,253.14V262.52M859.3,254.32V263.3M860,254.32V262.53M860.7,253.87V263.31M861.4,253.34V263.44M862.1,254.44V263.36M862.8,253.45V262.71M863.5,253.59V262.91M864.2,254.2V262.59M864.9,253.61V263.27" stroke="#0000f4" stroke-width="1" fill="none"/>
<path d="M636.7,4.4 h6 l-3,2.8 z" fill="#ff7400"/><rect x="636.4" y="7" width="6.6" height="8.6" rx="1.6" fill="#ff7400"/><line x1="639.7" y1="8.2" x2="639.7" y2="14.3" stroke="#fff" stroke-width="1.3"/><line x1="642.7" y1="7" x2="642.7" y2="15" stroke="#8a4a10" stroke-width="0.8" opacity="0.6"/>
<path d="M574.7,17.6 h8.6 l-4.3,4.6 z" fill="#ff7400"/>
<path d="M574.6,23.2 H583.4 V31.1 L579,33.6 L574.6,31.1 V23.2 Z" fill="#ff7400"/><path d="M576.2,25.4 h5.6 M579,25.4 v5.6" stroke="#fff" stroke-width="1.7" fill="none"/>
<rect x="503.5" y="309.2" width="22.6" height="11.7" fill="#0000a8"/>
<text x="504.8" y="318.7" font-family="DejaVu Sans" font-size="10.5" fill="#fff" textLength="19.3" lengthAdjust="spacingAndGlyphs" font-weight="bold">Ch1</text>
<rect x="526.6" y="309.5" width="71" height="11.6" fill="#fff" stroke="#b4b4b4" stroke-width="1"/>
<text x="536.2" y="318.7" font-family="DejaVu Sans" font-size="10.5" fill="#1818a0" textLength="53" lengthAdjust="spacingAndGlyphs" stroke="#1818a0" stroke-width="0.45">20.0mVΩ</text>
<text x="693.8" y="318.7" font-family="DejaVu Sans" font-size="10.5" fill="#000" textLength="8" lengthAdjust="spacingAndGlyphs" stroke="#000" stroke-width="0.25">M</text>
<rect x="703.7" y="309.5" width="43.5" height="11.6" fill="#fff" stroke="#b4b4b4" stroke-width="1"/>
<text x="705.6" y="318.7" font-family="DejaVu Sans" font-size="10.5" fill="#000" textLength="39.3" lengthAdjust="spacingAndGlyphs" stroke="#000" stroke-width="0.25">4.00ns</text>
<text x="757.7" y="318.7" font-family="DejaVu Sans" font-size="10.5" fill="#000" textLength="7.6" lengthAdjust="spacingAndGlyphs" stroke="#000" stroke-width="0.25">A</text>
<rect x="766.6" y="309.5" width="100.5" height="11.6" fill="#fff" stroke="#b4b4b4" stroke-width="1"/>
<text x="775.6" y="318.7" font-family="DejaVu Sans" font-size="10.5" fill="#1a1ab4" textLength="21" lengthAdjust="spacingAndGlyphs" stroke="#1a1ab4" stroke-width="0.2">Ch1</text>
<path d="M805.3,318.7 h2.2 l2.3,-7 h2.6" stroke="#111" stroke-width="1.6" fill="none"/>
<text x="823" y="318.7" font-family="DejaVu Sans" font-size="10.5" fill="#000" textLength="43" lengthAdjust="spacingAndGlyphs" stroke="#000" stroke-width="0.25">58.8mV</text>
<rect x="695.6" y="336.6" width="8.6" height="10.6" rx="1.5" fill="#ff7400"/><path d="M697.4,338.9 h5 M699.9,338.9 v7" stroke="#fff" stroke-width="1.7" fill="none"/>
<rect x="707.5" y="336.5" width="53" height="11.5" fill="#fff" stroke="#b4b4b4" stroke-width="1"/>
<text x="709.4" y="345.4" font-family="DejaVu Sans" font-size="10.5" fill="#000" textLength="43.1" lengthAdjust="spacingAndGlyphs" stroke="#000" stroke-width="0.25">20.40&#160;%</text>
<text x="43.7" y="421.3" font-family="Liberation Sans" font-size="9.2" fill="#25922a" text-anchor="middle">Mkr 1(A)</text>
<text x="114" y="421.3" font-family="Liberation Sans" font-size="9.2" fill="#25922a" text-anchor="middle">Mkr 1L</text>
<text x="186.5" y="421.3" font-family="Liberation Sans" font-size="9.2" fill="#25922a" text-anchor="middle">Mkr 1R</text>
<text x="258.7" y="421.3" font-family="Liberation Sans" font-size="9.2" fill="#000" text-anchor="middle">BW</text>
<text x="329.5" y="421.3" font-family="Liberation Sans" font-size="9.2" fill="#25922a" text-anchor="middle">CWL</text>
<text x="62.6" y="432.1" font-family="Liberation Sans" font-size="9.2" fill="#25922a" text-anchor="end">1064.446 nm</text>
<text x="134" y="432.1" font-family="Liberation Sans" font-size="9.2" fill="#25922a" text-anchor="end">1064.422 nm</text>
<text x="206" y="432.1" font-family="Liberation Sans" font-size="9.2" fill="#25922a" text-anchor="end">1064.471 nm</text>
<text x="240.8" y="432.1" font-family="Liberation Sans" font-size="9.2" fill="#000">0.049 nm</text>
<text x="297.8" y="432.1" font-family="Liberation Sans" font-size="9.2" fill="#25922a">1064.447 nm</text>
<text x="63.6" y="442.9" font-family="Liberation Sans" font-size="9.2" fill="#25922a" text-anchor="end">27.741 nW</text>
<text x="134.7" y="442.9" font-family="Liberation Sans" font-size="9.2" fill="#25922a" text-anchor="end">13.904 nW</text>
<text x="208" y="442.9" font-family="Liberation Sans" font-size="9.2" fill="#25922a" text-anchor="end">13.904 nW</text>
<text x="240.8" y="442.9" font-family="Liberation Sans" font-size="9.2" fill="#000">501.2&#160; E-3</text>
<path d="M85.9,460.5V725.6M124.4,460.5V725.6M162.9,460.5V725.6M201.4,460.5V725.6M239.9,460.5V725.6M278.4,460.5V725.6M316.9,460.5V725.6M355.4,460.5V725.6M393.9,460.5V725.6M47.4,487.01H432.4M47.4,513.52H432.4M47.4,540.03H432.4M47.4,566.54H432.4M47.4,593.05H432.4M47.4,619.56H432.4M47.4,646.07H432.4M47.4,672.58H432.4M47.4,699.09H432.4" stroke="#cdcdcd" stroke-width="1.2" fill="none"/>
<rect x="47.4" y="460.5" width="385" height="265.1" fill="none" stroke="#c4c4c4" stroke-width="1.3"/>
<rect x="48.2" y="461.3" width="75.6" height="25.11" fill="#fff"/>
<path d="M63.2,472.6L70.2,472.6M62.32,474.72L67.27,479.67M60.2,475.6L60.2,482.6M58.08,474.72L53.13,479.67M57.2,472.6L50.2,472.6M58.08,470.48L53.13,465.53M60.2,469.6L60.2,462.6M62.32,470.48L67.27,465.53" stroke="#b4b4b4" stroke-width="1.1" stroke-dasharray="1.6 1.1" fill="none"/>
<text x="76.7" y="477.2" font-family="Liberation Sans" font-size="14.2" fill="#ababab" textLength="45.2" lengthAdjust="spacingAndGlyphs" font-weight="bold">Agilent</text>
<text x="35.2" y="462.8" font-family="Liberation Sans" font-size="10" fill="#000" text-anchor="end">28.3</text>
<text x="35.2" y="517.32" font-family="Liberation Sans" font-size="10" fill="#000" text-anchor="end">22.7</text>
<text x="35.2" y="570.34" font-family="Liberation Sans" font-size="10" fill="#000" text-anchor="end">17.0</text>
<text x="35.2" y="623.36" font-family="Liberation Sans" font-size="10" fill="#000" text-anchor="end">11.3</text>
<text x="35.2" y="676.38" font-family="Liberation Sans" font-size="10" fill="#000" text-anchor="end">5.66</text>
<text x="35.2" y="729.4" font-family="Liberation Sans" font-size="10" fill="#000" text-anchor="end">0.00</text>
<text x="35.3" y="490.21" font-family="Liberation Sans" font-size="8.8" fill="#f4b026" text-anchor="end">nW</text>
<text x="35.3" y="590.2" font-family="Liberation Sans" font-size="8.8" fill="#f4b026" text-anchor="end">2.83</text>
<text x="35.3" y="602" font-family="Liberation Sans" font-size="8.8" fill="#f4b026" text-anchor="end">nW/div</text>
<path d="M36.2,722.6 l3.6,3 l-3.6,3 M39.8,722.6 l3.6,3 l-3.6,3 M36.2,725.6 h8" stroke="#333" stroke-width="1" fill="none"/>
<text x="47.4" y="737" font-family="Liberation Sans" font-size="8.8" fill="#000">1064.196</text>
<text x="142.5" y="737" font-family="Liberation Sans" font-size="8.8" fill="#f4b026" text-anchor="middle">nm</text>
<text x="239" y="737" font-family="Liberation Sans" font-size="8.8" fill="#000" text-anchor="middle">1064.446</text>
<text x="309.7" y="737" font-family="Liberation Sans" font-size="8.8" fill="#f4b026">0.050 nm/div</text>
<text x="431.5" y="737" font-family="Liberation Sans" font-size="8.8" fill="#000" text-anchor="end">1064.696</text>
<text x="16.5" y="751.4" font-family="Liberation Sans" font-size="8.8" fill="#22c8f0">RBW:</text>
<text x="60" y="751.4" font-family="Liberation Sans" font-size="8.8" fill="#000">0.06 nm</text>
<text x="120.7" y="751.4" font-family="Liberation Sans" font-size="8.8" fill="#22c8f0">Sens:</text>
<text x="164.5" y="751.4" font-family="Liberation Sans" font-size="8.8" fill="#000">46.4 pW</text>
<text x="324.6" y="751.4" font-family="Liberation Sans" font-size="8.8" fill="#22c8f0">In Vac</text>
<text x="379" y="751.4" font-family="Liberation Sans" font-size="8.8" fill="#f02020">OverSweep</text>
<text x="16.5" y="763.8" font-family="Liberation Sans" font-size="8.8" fill="#22c8f0">VBW:</text>
<text x="62.8" y="763.8" font-family="Liberation Sans" font-size="8.8" fill="#000">194&#160; Hz</text>
<text x="130" y="763.8" font-family="Liberation Sans" font-size="8.8" fill="#22c8f0">ST:</text>
<text x="167.3" y="763.8" font-family="Liberation Sans" font-size="8.8" fill="#000">100&#160; ms</text>
<text x="228.4" y="763.8" font-family="Liberation Sans" font-size="8.8" fill="#22c8f0">Avg:</text>
<text x="261.2" y="763.8" font-family="Liberation Sans" font-size="8.8" fill="#000">Off</text>
<path d="M47.4,725.6 L148.8,725.6 L155,725 L162.6,722.9 L170,719.8 L179.2,716 L187,712.5 L193,709 L197,705.5 L199.8,700.8 L202.5,694.5 L205.3,687 L208,679 L210.9,670.5 L213,661.5 L215,651 L217.2,636 L219.1,620.9 L221.3,594.7 L223,580 L224.6,565.8 L226,552 L227.4,538.2 L228.8,524 L230.2,510.6 L232.2,496 L234.3,483 L237,472 L239.8,465.3 L242.3,467.5 L244.5,475 L246.9,485.8 L249,499 L251,513.4 L253,533 L255.1,554.7 L256.9,575 L258.7,594.7 L260.2,608 L262,620.9 L264,636.5 L266.2,651.2 L268.8,665.5 L271.7,678.8 L275,690.5 L278.6,700.8 L283,708 L288.2,713.2 L295,717 L302,720.1 L309,722.5 L315.8,724.3 L321,725 L326.8,725.3 L432.4,725.6" stroke="#1a1a1a" stroke-width="1.05" fill="none" stroke-linejoin="round"/>
<circle cx="221.3" cy="594.7" r="3.3" fill="none" stroke="#222" stroke-width="1"/>
<circle cx="258.7" cy="594.7" r="3.3" fill="none" stroke="#222" stroke-width="1"/>
<circle cx="239.8" cy="467.6" r="2.4" fill="#fff" stroke="#222" stroke-width="1.2"/>
<path d="M239.6,458.8 L243.6,465.4 H235.8 Z" fill="none" stroke="#333" stroke-width="1"/>
<path d="M534.88,460.5V725.6M573.26,460.5V725.6M611.64,460.5V725.6M650.02,460.5V725.6M688.4,460.5V725.6M726.78,460.5V725.6M765.16,460.5V725.6M803.54,460.5V725.6M841.92,460.5V725.6M496.5,487.01H880.3M496.5,513.52H880.3M496.5,540.03H880.3M496.5,566.54H880.3M496.5,593.05H880.3M496.5,619.56H880.3M496.5,646.07H880.3M496.5,672.58H880.3M496.5,699.09H880.3" stroke="#cdcdcd" stroke-width="1.2" fill="none"/>
<rect x="496.5" y="460.5" width="383.8" height="265.1" fill="none" stroke="#c4c4c4" stroke-width="1.3"/>
<rect x="497.3" y="461.3" width="75.36" height="25.11" fill="#fff"/>
<path d="M512.3,472.6L519.3,472.6M511.42,474.72L516.37,479.67M509.3,475.6L509.3,482.6M507.18,474.72L502.23,479.67M506.3,472.6L499.3,472.6M507.18,470.48L502.23,465.53M509.3,469.6L509.3,462.6M511.42,470.48L516.37,465.53" stroke="#b4b4b4" stroke-width="1.1" stroke-dasharray="1.6 1.1" fill="none"/>
<text x="525.8" y="477.2" font-family="Liberation Sans" font-size="14.2" fill="#ababab" textLength="45.2" lengthAdjust="spacingAndGlyphs" font-weight="bold">Agilent</text>
<text x="483.6" y="462.8" font-family="Liberation Sans" font-size="10" fill="#000" text-anchor="end" textLength="27.4" lengthAdjust="spacingAndGlyphs">&#8722;53.47</text>
<text x="483.6" y="517.32" font-family="Liberation Sans" font-size="10" fill="#000" text-anchor="end" textLength="27.4" lengthAdjust="spacingAndGlyphs">&#8722;59.04</text>
<text x="483.6" y="570.34" font-family="Liberation Sans" font-size="10" fill="#000" text-anchor="end" textLength="27.4" lengthAdjust="spacingAndGlyphs">&#8722;64.60</text>
<text x="483.6" y="623.36" font-family="Liberation Sans" font-size="10" fill="#000" text-anchor="end" textLength="27.4" lengthAdjust="spacingAndGlyphs">&#8722;70.17</text>
<text x="483.6" y="676.38" font-family="Liberation Sans" font-size="10" fill="#000" text-anchor="end" textLength="27.4" lengthAdjust="spacingAndGlyphs">&#8722;75.74</text>
<text x="483.6" y="729.4" font-family="Liberation Sans" font-size="10" fill="#000" text-anchor="end" textLength="27.4" lengthAdjust="spacingAndGlyphs">&#8722;81.30</text>
<text x="483.6" y="490.21" font-family="Liberation Sans" font-size="8.8" fill="#f4b026" text-anchor="end">dBm</text>
<text x="483.6" y="590.2" font-family="Liberation Sans" font-size="8.8" fill="#f4b026" text-anchor="end">2.78</text>
<text x="483.6" y="602" font-family="Liberation Sans" font-size="8.8" fill="#f4b026" text-anchor="end">dB/div</text>
<path d="M484.5,722.6 l3.6,3 l-3.6,3 M488.1,722.6 l3.6,3 l-3.6,3 M484.5,725.6 h8" stroke="#25922a" stroke-width="1" fill="none"/>
<text x="496.5" y="737" font-family="Liberation Sans" font-size="8.8" fill="#000">1063.198</text>
<text x="591" y="737" font-family="Liberation Sans" font-size="8.8" fill="#f4b026" text-anchor="middle">nm</text>
<text x="688.3" y="737" font-family="Liberation Sans" font-size="8.8" fill="#000" text-anchor="middle">1064.448</text>
<text x="757.5" y="737" font-family="Liberation Sans" font-size="8.8" fill="#f4b026">0.250 nm/div</text>
<text x="879.5" y="737" font-family="Liberation Sans" font-size="8.8" fill="#000" text-anchor="end">1065.698</text>
<text x="465.7" y="751.4" font-family="Liberation Sans" font-size="8.8" fill="#22c8f0">RBW:</text>
<text x="509" y="751.4" font-family="Liberation Sans" font-size="8.8" fill="#000">0.06 nm</text>
<text x="569.6" y="751.4" font-family="Liberation Sans" font-size="8.8" fill="#22c8f0">Sens:</text>
<text x="603.5" y="751.4" font-family="Liberation Sans" font-size="8.8" fill="#000">&#8722;73.29 dBm</text>
<text x="773.3" y="751.4" font-family="Liberation Sans" font-size="8.8" fill="#22c8f0">In Vac</text>
<text x="827.8" y="751.4" font-family="Liberation Sans" font-size="8.8" fill="#f02020">OverSweep</text>
<text x="465.7" y="763.8" font-family="Liberation Sans" font-size="8.8" fill="#22c8f0">VBW:</text>
<text x="511" y="763.8" font-family="Liberation Sans" font-size="8.8" fill="#000">194&#160; Hz</text>
<text x="579.2" y="763.8" font-family="Liberation Sans" font-size="8.8" fill="#22c8f0">ST:</text>
<text x="616.4" y="763.8" font-family="Liberation Sans" font-size="8.8" fill="#000">100&#160; ms</text>
<text x="677" y="763.8" font-family="Liberation Sans" font-size="8.8" fill="#22c8f0">Avg:</text>
<text x="732.2" y="763.8" font-family="Liberation Sans" font-size="8.8" fill="#000">20/20</text>
<line x1="496.5" y1="486.7" x2="880.3" y2="486.7" stroke="#25922a" stroke-width="1.1" stroke-dasharray="5 3"/>
<text x="594.7" y="483.6" font-family="Liberation Sans" font-size="8.8" fill="#25922a" textLength="69.3" lengthAdjust="spacingAndGlyphs">REF: &#8722;56.25 dBm</text>
<path d="M496.5,725.6 L496.62,724.84 L499.92,723.97 L503.23,724.84 L504.55,723.35 L505.88,720.87 L506.98,719.02 L508.08,716.46 L508.96,718.61 L509.85,720.87 L510.95,720.68 L512.05,721.97 L513.15,721.08 L514.26,718.67 L515.36,717.81 L516.46,715.36 L517.78,712.41 L519.11,709.4 L519.99,711.84 L520.87,714.26 L521.75,715.77 L522.64,718.67 L523.74,717.15 L524.84,718.22 L526.38,719.11 L527.82,714.69 L529.25,710.95 L530.35,711.72 L531.46,712.05 L533,710.95 L534.1,712.05 L535.2,723.08 L536.31,722.51 L537.41,724.18 L538.51,722.19 L539.61,718.67 L540.72,718.52 L541.82,719.77 L542.92,718.3 L544.02,718.22 L545.13,718.36 L546.23,720.87 L547.77,719.11 L548.88,722.94 L549.98,724.18 L550.86,721.82 L551.74,718.22 L552.84,722.51 L553.95,724.84 L555.05,724.81 L556.15,724.18 L557.81,721.31 L559.46,720.87 L561,718.67 L561.89,719.87 L562.77,721.97 L563.87,723.07 L564.97,724.18 L566.07,723.51 L567.18,724.84 L568.28,724.03 L569.38,720.87 L571.04,712.26 L572.69,704.33 L573.79,707.29 L574.9,712.05 L575.78,719.27 L576.66,724.84 L579.64,723.86 L582.61,724.84 L583.72,721.21 L584.82,715.36 L585.92,713.36 L587.02,711.61 L588.13,712.52 L589.23,713.15 L590.33,715.5 L591.43,718.67 L592.54,719.18 L593.64,719.77 L594.74,718.4 L595.84,718.67 L597.17,714.15 L598.49,712.05 L599.37,715.76 L600.25,717.56 L601.36,720.51 L602.46,724.84 L613.48,725.57 L624.51,724.84 L625.61,723.2 L626.71,723.08 L627.82,720.44 L628.92,715.36 L630.02,718.04 L631.12,718.67 L632.23,717.34 L633.33,714.7 L634.43,717.92 L635.53,719.77 L636.64,718.88 L637.74,717.56 L638.84,719.81 L639.94,720.87 L641.05,720.44 L642.15,721.97 L643.25,723.01 L644.36,724.18 L645.46,724.48 L646.56,723.08 L647.66,723.18 L648.77,724.84 L649.87,722.3 L650.97,717.56 L652.07,719.67 L653.18,719.77 L654.5,718.98 L655.82,718.67 L656.7,720.52 L657.59,723.08 L658.69,724.05 L659.79,725.28 L660.89,722.78 L662,720.87 L663.1,718.63 L664.2,713.81 L665.3,714.84 L666.41,716.46 L667.51,711.92 L668.61,709.85 L669.64,706.34 L671.02,692.56 L672.4,667.75 L673.78,642.94 L675.15,622.27 L676.53,601.6 L677.91,580.93 L679.29,560.25 L680.67,540.96 L682.05,521.66 L683.42,507.88 L684.8,496.86 L686.46,490.79 L688.38,488.86 L688.59,489.49 L691.32,494.93 L694.04,504.47 L696.22,516.72 L698.13,531.7 L700.31,552.12 L702.21,572.55 L704.39,592.97 L706.3,613.4 L707.39,622.55 L708.47,633.82 L709.43,644.6 L710.38,654.25 L711.47,666.42 L712.56,676.03 L713.51,685.56 L714.47,695.1 L715.36,698.82 L716.46,702.11 L717.56,705.44 L718.67,712.18 L719.77,718.67 L720.87,724.84 L723.08,725.49 L725.28,724.84 L726.38,721.03 L727.49,718.67 L728.59,714.76 L729.69,710.29 L730.79,714.07 L731.9,717.56 L733,721.52 L734.1,724.84 L735.76,724.01 L737.41,724.84 L738.51,721.45 L739.61,719.77 L741.05,717.5 L742.48,716.02 L743.8,719 L745.13,719.77 L746.78,721.91 L748.43,724.84 L750.64,725.09 L752.84,724.84 L754.28,720.15 L755.71,716.46 L757.03,717.63 L758.36,720.87 L759.46,721.73 L760.56,724.84 L762.22,725.6 L763.87,724.84 L764.97,722.47 L766.07,718.67 L767.18,715.03 L768.28,712.05 L769.38,716.39 L770.49,719.77 L771.59,719.12 L772.69,717.56 L773.79,721.36 L774.9,723.08 L776,721.51 L777.1,717.56 L778.2,715.67 L779.31,714.26 L780.74,713.87 L782.17,710.95 L783.27,713.8 L784.38,714.26 L785.48,715.59 L786.58,716.46 L787.91,721.65 L789.23,724.84 L790.33,723.93 L791.43,723.08 L792.54,720.55 L793.64,718.67 L794.52,720.21 L795.4,723.08 L796.73,724.94 L798.05,724.84 L799.15,723.08 L800.25,723.08 L801.36,722.84 L802.46,724.84 L803.56,723.65 L804.66,720.87 L806.32,716.95 L807.97,711.61 L809.07,712.89 L810.18,714.26 L811.28,717.34 L812.38,718.67 L813.48,716.4 L814.59,716.46 L815.69,717.49 L816.79,719.77 L817.89,718.12 L819,717.56 L820.1,716.58 L821.2,716.02 L822.3,718.69 L823.41,723.08 L824.51,720.85 L825.61,720.87 L826.71,722.43 L827.82,724.84 L828.92,722.24 L830.02,717.56 L831.46,716.62 L832.89,713.15 L833.99,719.64 L835.09,724.84 L839.72,724.79 L844.36,724.84 L845.68,722.21 L847,720.87 L847.88,724.05 L848.77,724.84 L853.73,724.91 L858.69,724.84 L860.23,718.67 L861.11,720.36 L862,720.87 L863.1,720.75 L864.2,723.08 L865.3,723.21 L866.41,724.84 L868.06,725.6 L869.71,724.84 L871.37,718.66 L873.02,710.95 L874.12,712.49 L875.23,712.05 L876.33,713.97 L877.43,715.36 L878.53,719.91 L879.64,724.84" stroke="#2a9a2a" stroke-width="1.1" fill="none" stroke-linejoin="round"/>
<path d="M63.9,1148.03H132.9M139.8,1148.03H424.7M63.9,1097.09H132.9M139.8,1097.09H424.7M63.9,1046.15H132.9M139.8,1046.15H424.7M63.9,995.21H132.9M139.8,995.21H424.7M63.9,944.27H132.9M139.8,944.27H424.7M63.9,893.33H132.9M139.8,893.33H424.7M78.3,893.3V1172.6M106.1,893.3V1172.6M141.8,893.3V1172.6M175.5,893.3V1172.6M211.89,893.3V1172.6M248.28,893.3V1172.6M284.67,893.3V1172.6M321.06,893.3V1172.6M357.45,893.3V1172.6M393.84,893.3V1172.6" stroke="#d2d2d2" stroke-width="1" stroke-dasharray="1.2 1.4" fill="none"/>
<path d="M63.9,1122.56H132.9M139.8,1122.56H424.7M63.9,1071.62H132.9M139.8,1071.62H424.7M63.9,1020.68H132.9M139.8,1020.68H424.7M63.9,969.74H132.9M139.8,969.74H424.7M63.9,918.8H132.9M139.8,918.8H424.7M92.2,893.3V1172.6M120,893.3V1172.6M157.3,893.3V1172.6M193.69,893.3V1172.6M230.08,893.3V1172.6M266.47,893.3V1172.6M302.86,893.3V1172.6M339.25,893.3V1172.6M375.64,893.3V1172.6M412.03,893.3V1172.6" stroke="#a9a9a9" stroke-width="1" stroke-dasharray="4 2.4" fill="none"/>
<path d="M62.9,1173.5h5M62.9,1148.03h4M62.9,1122.56h5M62.9,1097.09h4M62.9,1071.62h5M62.9,1046.15h4M62.9,1020.68h5M62.9,995.21h4M62.9,969.74h5M62.9,944.27h4M62.9,918.8h5M62.9,893.33h4M92.2,1173.6v-5M120,1173.6v-5M157.3,1173.6v-5M193.69,1173.6v-5M230.08,1173.6v-5M266.47,1173.6v-5M302.86,1173.6v-5M339.25,1173.6v-5M375.64,1173.6v-5M78.3,1173.6v-5M106.1,1173.6v-5M141.8,1173.6v-5M175.5,1173.6v-5M211.89,1173.6v-5M248.28,1173.6v-5M284.67,1173.6v-5M321.06,1173.6v-5M357.45,1173.6v-5M393.84,1173.6v-5" stroke="#111" stroke-width="1" fill="none"/>
<rect x="62.9" y="892.3" width="362.8" height="281.3" fill="none" stroke="#111" stroke-width="1.6"/>
<path d="M127.2,1180.6 L139.2,1168.2 M132,1180.6 L144,1168.2" stroke="#222" stroke-width="0.9" fill="none"/>
<text x="59" y="1180.6" text-anchor="end" font-family="Liberation Sans" font-size="17.8" fill="#111">0</text>
<text x="59" y="1129.66" text-anchor="end" font-family="Liberation Sans" font-size="17.8" fill="#111">2</text>
<text x="59" y="1078.72" text-anchor="end" font-family="Liberation Sans" font-size="17.8" fill="#111">4</text>
<text x="59" y="1027.78" text-anchor="end" font-family="Liberation Sans" font-size="17.8" fill="#111">6</text>
<text x="59" y="976.84" text-anchor="end" font-family="Liberation Sans" font-size="17.8" fill="#111">8</text>
<text x="59" y="925.9" text-anchor="end" font-family="Liberation Sans" font-size="17.8" fill="#111">10</text>
<text x="64.6" y="1197.9" text-anchor="middle" font-family="Liberation Sans" font-size="17.8" fill="#111">0</text>
<text x="92.7" y="1197.9" text-anchor="middle" font-family="Liberation Sans" font-size="17.8" fill="#111">10</text>
<text x="119.6" y="1197.9" text-anchor="middle" font-family="Liberation Sans" font-size="17.8" fill="#111">20</text>
<text x="157.1" y="1197.9" text-anchor="middle" font-family="Liberation Sans" font-size="17.8" fill="#111">60</text>
<text x="194.7" y="1197.9" text-anchor="middle" font-family="Liberation Sans" font-size="17.8" fill="#111">120</text>
<text x="230.5" y="1197.9" text-anchor="middle" font-family="Liberation Sans" font-size="17.8" fill="#111">180</text>
<text x="266.5" y="1197.9" text-anchor="middle" font-family="Liberation Sans" font-size="17.8" fill="#111">240</text>
<text x="303.1" y="1197.9" text-anchor="middle" font-family="Liberation Sans" font-size="17.8" fill="#111">300</text>
<text x="339.6" y="1197.9" text-anchor="middle" font-family="Liberation Sans" font-size="17.8" fill="#111">360</text>
<text x="375.9" y="1197.9" text-anchor="middle" font-family="Liberation Sans" font-size="17.8" fill="#111">420</text>
<text x="412.3" y="1197.9" text-anchor="middle" font-family="Liberation Sans" font-size="17.8" fill="#111">480</text>
<text x="249.9" y="1232" text-anchor="middle" font-family="Liberation Serif" font-weight="bold" font-size="21" fill="#000" textLength="101.2" lengthAdjust="spacingAndGlyphs">Time [min]</text>
<text transform="translate(24.8,1039.1) rotate(-90)" x="0" y="0" text-anchor="middle" font-family="Liberation Serif" font-weight="bold" font-size="21.3" fill="#000" textLength="94.5" lengthAdjust="spacingAndGlyphs">Power [W]</text>
<path d="M64.3,1173.5 L64.9,1171.75 L65.5,1170 L65.9,1165 L66.3,1160 L66.38,1155 L66.47,1150 L66.55,1145 L66.63,1140 L66.72,1135 L66.8,1130 L66.84,1125 L66.88,1120 L66.92,1115 L66.96,1110 L67,1105 L67.04,1100 L67.08,1095 L67.12,1090 L67.16,1085 L67.2,1080 L67.24,1075 L67.28,1070 L67.32,1065 L67.36,1060 L67.4,1055 L67.44,1050 L67.48,1045 L67.52,1040 L67.56,1035 L67.6,1030 L67.65,1025 L67.7,1020 L67.75,1015 L67.8,1010 L67.85,1005 L67.9,1000 L68.1,993.15 L68.3,986.3 L68.53,980.87 L68.77,975.43 L69,970 L69.5,961.5 L70,955.75 L70.5,950 L71.25,943.85 L72,938.32 L72.8,935 L73.6,933.52 L74.23,931.69 L74.87,928.53 L75.5,927.28 L76.12,927.79 L76.75,927.16 L77.38,924.78 L78,925.3 L78.6,923.76 L79.2,925.04 L79.8,923.21 L80.4,926.87 L81,922.72 L81.65,922.58 L82.3,922.47 L82.95,921.68 L83.6,920.66 L84.28,920.09 L84.96,920.75 L85.64,920.59 L86.32,919.41 L87,919.56 L87.64,919.98 L88.29,918.46 L88.93,918.39 L89.57,917.73 L90.21,918.53 L90.86,918.38 L91.5,917.77 L92.2,918.03 L92.9,919.29 L93.6,917.47 L94.3,919.51 L95,917.93 L95.62,920.09 L96.24,920.17 L96.87,919.26 L97.49,922.32 L98.11,918.35 L98.73,918.45 L99.36,919.46 L99.98,918.34 L100.6,918.09 L101.3,920.32 L102,921.32 L102.6,921.97 L103.2,919.25 L103.8,922.69 L104.4,919.83 L105,918.97 L105.62,921.13 L106.25,920.51 L106.88,920.35 L107.5,923.12 L108.12,920.75 L108.75,918.88 L109.38,920.21 L110,919.79 L110.62,919.14 L111.25,921.01 L111.88,921.04 L112.5,921.22 L113.12,920.01 L113.75,921.57 L114.38,920.24 L115,921.52 L115.62,920.79 L116.25,920.61 L116.88,919.14 L117.5,921.63 L118.12,920.83 L118.75,920.78 L119.38,919.9 L120,918.83 L120.62,918.83 L121.25,920.25 L121.88,921.01 L122.5,920.92 L123.12,922.82 L123.75,921.4 L124.38,920.12 L125,921.65 L125.62,922.33 L126.25,921.74 L126.88,921.12 L127.5,922.51 L128.12,921.06 L128.75,920.91 L129.38,921.45 L130,922.48 L130.62,922.76 L131.25,920.57 L131.88,920.87 L132.5,921.5" stroke="#000" stroke-width="1.25" fill="none" stroke-linejoin="round"/>
<path d="M139.8,916.69 L140.3,916.34 L140.8,914.93 L141.3,915.63 L141.8,913.43 L142.3,913.53 L142.8,913.92 L143.3,914.54 L143.8,913.78 L144.3,912.52 L144.8,914.5 L145.3,913.05 L145.8,913.06 L146.3,913.38 L146.8,912.88 L147.3,914.09 L147.8,914.39 L148.3,912.73 L148.8,914.06 L149.3,913.46 L149.8,912.9 L150.3,914.4 L150.8,913.9 L151.3,912.41 L151.8,914.57 L152.3,913.27 L152.8,913.92 L153.3,912.84 L153.8,914.2 L154.3,913.49 L154.8,914.63 L155.3,914.54 L155.8,915.12 L156.3,912.83 L156.8,914.02 L157.3,915.16 L157.8,913.62 L158.3,915.23 L158.8,914.24 L159.3,915.43 L159.8,913.65 L160.3,913.84 L160.8,915.24 L161.3,915.6 L161.8,914.99 L162.3,915.44 L162.8,914.79 L163.3,913.09 L163.8,915.09 L164.3,914.84 L164.8,915.52 L165.3,913.62 L165.8,914.82 L166.3,914.13 L166.8,915.07 L167.3,913.96 L167.8,914.24 L168.3,915.23 L168.8,914.13 L169.3,912.76 L169.8,914.5 L170.3,915.14 L170.8,913.88 L171.3,914.28 L171.8,913.15 L172.3,914.71 L172.8,914.89 L173.3,913.59 L173.8,914.39 L174.3,915.09 L174.8,913.51 L175.3,914.02 L175.8,914.59 L176.3,915.05 L176.8,914.81 L177.3,914.86 L177.8,915.14 L178.3,914.35 L178.8,914.72 L179.3,914.15 L179.8,913.95 L180.3,914.7 L180.8,914.03 L181.3,912.98 L181.8,913.44 L182.3,914.89 L182.8,914.2 L183.3,914.7 L183.8,914.4 L184.3,912.78 L184.8,914.53 L185.3,914.95 L185.8,913.37 L186.3,913.36 L186.8,914.28 L187.3,914.98 L187.8,914.56 L188.3,912.6 L188.8,914.08 L189.3,914.99 L189.8,914.77 L190.3,914.58 L190.8,913.69 L191.3,913.62 L191.8,914.62 L192.3,914.44 L192.8,912.52 L193.3,914.71 L193.8,913.86 L194.3,914.94 L194.8,913.73 L195.3,913.67 L195.8,913.32 L196.3,914.63 L196.8,913.29 L197.3,914.41 L197.8,914.34 L198.3,912.69 L198.8,914.46 L199.3,914.01 L199.8,913.77 L200.3,911.87 L200.8,914.71 L201.3,913.45 L201.8,914.63 L202.3,913.04 L202.8,913.75 L203.3,914.78 L203.8,913.51 L204.3,914.06 L204.8,914.81 L205.3,914 L205.8,914.39 L206.3,913.43 L206.8,914.11 L207.3,913.72 L207.8,911.34 L208.3,913.87 L208.8,914.71 L209.3,913.43 L209.8,914.88 L210.3,914.64 L210.8,914.57 L211.3,914.24 L211.8,913.77 L212.3,912.05 L212.8,911.65 L213.3,913.62 L213.8,913.59 L214.3,914.89 L214.8,914.31 L215.3,914.24 L215.8,913.38 L216.3,912.42 L216.8,913.71 L217.3,914.03 L217.8,914.52 L218.3,914.04 L218.8,914.68 L219.3,914.05 L219.8,914.25 L220.3,914.83 L220.8,913.4 L221.3,911.72 L221.8,914.45 L222.3,913.89 L222.8,911.92 L223.3,914.79 L223.8,913.21 L224.3,911.84 L224.8,914.23 L225.3,913.68 L225.8,914.11 L226.3,913.55 L226.8,913.98 L227.3,914.22 L227.8,914.7 L228.3,913.14 L228.8,911.05 L229.3,913.09 L229.8,914.76 L230.3,913.3 L230.8,914.07 L231.3,914.58 L231.8,913.46 L232.3,913.58 L232.8,914.51 L233.3,912.4 L233.8,914.6 L234.3,914.02 L234.8,913.46 L235.3,913.74 L235.8,914.42 L236.3,914.22 L236.8,914.12 L237.3,914.1 L237.8,913.84 L238.3,914.63 L238.8,913.4 L239.3,913.52 L239.8,914.6 L240.3,914.77 L240.8,913.78 L241.3,913.9 L241.8,913.14 L242.3,913.86 L242.8,914.55 L243.3,914.57 L243.8,913.66 L244.3,913.23 L244.8,914.32 L245.3,914.23 L245.8,914.67 L246.3,914.32 L246.8,914.6 L247.3,914.27 L247.8,914.76 L248.3,913.64 L248.8,912.69 L249.3,912.67 L249.8,913.1 L250.3,914.61 L250.8,912.86 L251.3,914.29 L251.8,914.27 L252.3,914.23 L252.8,914.4 L253.3,913.15 L253.8,912.93 L254.3,914.33 L254.8,914.84 L255.3,914.92 L255.8,913.6 L256.3,912.36 L256.8,913.82 L257.3,913.71 L257.8,914.88 L258.3,913.42 L258.8,914.62 L259.3,914.59 L259.8,914.96 L260.3,914.98 L260.8,914.88 L261.3,914.9 L261.8,913.49 L262.3,914.41 L262.8,913.3 L263.3,914.38 L263.8,913.28 L264.3,913.94 L264.8,914.31 L265.3,912.91 L265.8,914.18 L266.3,914.54 L266.8,914.02 L267.3,913.94 L267.8,913.97 L268.3,914.67 L268.8,914.23 L269.3,914.67 L269.8,914.85 L270.3,913.91 L270.8,914.88 L271.3,913.65 L271.8,914.81 L272.3,914.52 L272.8,914.9 L273.3,914.76 L273.8,914.95 L274.3,914.94 L274.8,915.03 L275.3,913.14 L275.8,914.23 L276.3,913.23 L276.8,914.33 L277.3,913.87 L277.8,915.03 L278.3,913.22 L278.8,914.08 L279.3,914.22 L279.8,913.49 L280.3,915.09 L280.8,914.06 L281.3,914.6 L281.8,914.6 L282.3,914.58 L282.8,914.98 L283.3,913.56 L283.8,914.25 L284.3,914.51 L284.8,915.12 L285.3,914.2 L285.8,914.93 L286.3,914.91 L286.8,914.1 L287.3,912.45 L287.8,913.28 L288.3,914.5 L288.8,913.02 L289.3,913.42 L289.8,914.79 L290.3,914.52 L290.8,914.69 L291.3,914.99 L291.8,914.74 L292.3,914.94 L292.8,914.96 L293.3,914.2 L293.8,913.14 L294.3,915.07 L294.8,913.93 L295.3,915.07 L295.8,915.02 L296.3,913.21 L296.8,914.78 L297.3,914.92 L297.8,914.29 L298.3,914.62 L298.8,914.77 L299.3,914.64 L299.8,913.93 L300.3,913.57 L300.8,914.18 L301.3,914.68 L301.8,913.8 L302.3,914.99 L302.8,913.45 L303.3,914.76 L303.8,915.06 L304.3,914.34 L304.8,912.91 L305.3,913.95 L305.8,913.99 L306.3,914.65 L306.8,914.55 L307.3,913.99 L307.8,914.13 L308.3,914.69 L308.8,914.92 L309.3,914.59 L309.8,914.76 L310.3,914.12 L310.8,914.56 L311.3,914.56 L311.8,914.8 L312.3,914.06 L312.8,914.42 L313.3,914.29 L313.8,913.28 L314.3,914.64 L314.8,913.55 L315.3,914.85 L315.8,914.94 L316.3,914.66 L316.8,914.04 L317.3,914.42 L317.8,914.38 L318.3,913.82 L318.8,913.64 L319.3,914.73 L319.8,912.91 L320.3,914.48 L320.8,914.51 L321.3,914.26 L321.8,913.05 L322.3,914.36 L322.8,914.65 L323.3,913.51 L323.8,913.39 L324.3,914.29 L324.8,914.79 L325.3,913.2 L325.8,914.13 L326.3,914.25 L326.8,913.76 L327.3,914.22 L327.8,914.71 L328.3,914.05 L328.8,913.22 L329.3,913.1 L329.8,913.8 L330.3,913.5 L330.8,914.13 L331.3,914.81 L331.8,912.74 L332.3,914.15 L332.8,913.56 L333.3,913.75 L333.8,913.72 L334.3,914.09 L334.8,913.23 L335.3,913.46 L335.8,913.41 L336.3,914.43 L336.8,914.42 L337.3,913.72 L337.8,914.67 L338.3,914.51 L338.8,914.91 L339.3,914.35 L339.8,912.8 L340.3,913.41 L340.8,914.25 L341.3,914.76 L341.8,915.01 L342.3,914.63 L342.8,914.91 L343.3,912.44 L343.8,914.25 L344.3,914.79 L344.8,912.94 L345.3,914.66 L345.8,914.21 L346.3,914.86 L346.8,914.38 L347.3,912.58 L347.8,913.92 L348.3,914.92 L348.8,913.1 L349.3,914.48 L349.8,914.44 L350.3,914.14 L350.8,914.48 L351.3,914.74 L351.8,914.98 L352.3,913.86 L352.8,914.35 L353.3,914.08 L353.8,914.15 L354.3,914.18 L354.8,914.61 L355.3,914.7 L355.8,915.09 L356.3,915.18 L356.8,915.07 L357.3,914.15 L357.8,914.69 L358.3,914.57 L358.8,914.93 L359.3,915.08 L359.8,914.22 L360.3,914.07 L360.8,913.98 L361.3,915.23 L361.8,915.26 L362.3,915.02 L362.8,915.41 L363.3,914.76 L363.8,912.83 L364.3,914.25 L364.8,915.44 L365.3,914.28 L365.8,914.86 L366.3,914.83 L366.8,914.42 L367.3,914.17 L367.8,914.54 L368.3,912.8 L368.8,914.61 L369.3,914.73 L369.8,915.39 L370.3,915.22 L370.8,915.3 L371.3,914.74 L371.8,914.39 L372.3,914.08 L372.8,915.21 L373.3,915.05 L373.8,915.42 L374.3,914.37 L374.8,914.75 L375.3,915.42 L375.8,914.37 L376.3,913.69 L376.8,915.52 L377.3,915.45 L377.8,914.97 L378.3,914.73 L378.8,915.19 L379.3,915.3 L379.8,915.58 L380.3,914.84 L380.8,915.49 L381.3,914.69 L381.8,914.95 L382.3,914.32 L382.8,915.32 L383.3,914.79 L383.8,915.51 L384.3,915.38 L384.8,914.81 L385.3,915.15 L385.8,915.23 L386.3,913.61 L386.8,915.38 L387.3,915.43 L387.8,915.38 L388.3,914.48 L388.8,913.81 L389.3,915.17 L389.8,914.1 L390.3,914.45 L390.8,914.63 L391.3,913.44 L391.8,914.3 L392.3,914.76 L392.8,915.19 L393.3,914.93 L393.8,914.7 L394.3,915.09 L394.8,914.38 L395.3,912 L395.8,914.34 L396.3,914.97 L396.8,913.75 L397.3,914.68 L397.8,914.55 L398.3,915.15 L398.8,913.68 L399.3,915.09 L399.8,913.73 L400.3,914.03 L400.8,914.86 L401.3,914.33 L401.8,914.98 L402.3,914.64 L402.8,915.22 L403.3,914.39 L403.8,915.44 L404.3,914.63 L404.8,914.6 L405.3,914.34 L405.8,914.47 L406.3,915.52 L406.8,915.36 L407.3,915.46 L407.8,915.48 L408.3,914.11 L408.8,915.67 L409.3,915.41 L409.8,915.64 L410.3,914.94 L410.8,914.87 L411.3,915.49 L411.8,915.35 L412.3,915.44 L412.8,913.96 L412.8,921.1 L412.3,921.96 L411.8,920.79 L411.3,921.95 L410.8,923.14 L410.3,921.35 L409.8,920.34 L409.3,920.88 L408.8,921.11 L408.3,921.62 L407.8,921.23 L407.3,920.96 L406.8,920.61 L406.3,921.8 L405.8,921.3 L405.3,920.6 L404.8,920.12 L404.3,921.1 L403.8,920.18 L403.3,920.2 L402.8,921.11 L402.3,920.42 L401.8,920.03 L401.3,919.81 L400.8,922.02 L400.3,921.07 L399.8,921.73 L399.3,920.65 L398.8,920.43 L398.3,920.73 L397.8,919.73 L397.3,920.32 L396.8,920.41 L396.3,920.71 L395.8,921.66 L395.3,920.83 L394.8,919.89 L394.3,920.45 L393.8,919.93 L393.3,920.31 L392.8,920.5 L392.3,920.65 L391.8,920.02 L391.3,921.01 L390.8,921.85 L390.3,920.16 L389.8,920.72 L389.3,920.01 L388.8,922.47 L388.3,920.26 L387.8,921.07 L387.3,921.25 L386.8,920.66 L386.3,919.92 L385.8,920.02 L385.3,921 L384.8,920.76 L384.3,922.22 L383.8,920.24 L383.3,920.89 L382.8,923.16 L382.3,920.29 L381.8,922.82 L381.3,920.53 L380.8,920.36 L380.3,921.93 L379.8,920.65 L379.3,920.6 L378.8,920.24 L378.3,920.12 L377.8,921.39 L377.3,920.27 L376.8,920.58 L376.3,920.49 L375.8,920.74 L375.3,920.36 L374.8,920.26 L374.3,919.97 L373.8,920.11 L373.3,920.43 L372.8,921.33 L372.3,920.25 L371.8,920.54 L371.3,919.97 L370.8,920.69 L370.3,921.82 L369.8,921.08 L369.3,921.19 L368.8,921.59 L368.3,920.23 L367.8,921.26 L367.3,920.01 L366.8,921.48 L366.3,920.68 L365.8,921.13 L365.3,920.41 L364.8,920.93 L364.3,920.1 L363.8,921.81 L363.3,920.04 L362.8,920.72 L362.3,921.62 L361.8,920.26 L361.3,920.63 L360.8,920.23 L360.3,920.04 L359.8,919.92 L359.3,920.15 L358.8,920.54 L358.3,922.15 L357.8,920.18 L357.3,921.69 L356.8,920.76 L356.3,921.35 L355.8,920.37 L355.3,921.33 L354.8,920.07 L354.3,920.14 L353.8,920.95 L353.3,920.94 L352.8,921.84 L352.3,920.74 L351.8,919.88 L351.3,920.16 L350.8,919.64 L350.3,921.6 L349.8,920.58 L349.3,921.56 L348.8,920.67 L348.3,920.45 L347.8,919.73 L347.3,919.57 L346.8,920.1 L346.3,919.6 L345.8,920.66 L345.3,920.52 L344.8,920.39 L344.3,920.41 L343.8,919.48 L343.3,920.1 L342.8,920 L342.3,919.73 L341.8,920.86 L341.3,920.16 L340.8,920.27 L340.3,919.75 L339.8,920.41 L339.3,919.88 L338.8,920.31 L338.3,920.63 L337.8,919.57 L337.3,919.77 L336.8,919.58 L336.3,920.72 L335.8,920.37 L335.3,920.35 L334.8,919.89 L334.3,919.83 L333.8,919.46 L333.3,920.02 L332.8,919.83 L332.3,920.14 L331.8,919.31 L331.3,920.49 L330.8,920.94 L330.3,920.02 L329.8,919.93 L329.3,921.41 L328.8,919.6 L328.3,920.59 L327.8,920.65 L327.3,920.42 L326.8,920.18 L326.3,919.37 L325.8,919.33 L325.3,920.35 L324.8,920.34 L324.3,920.81 L323.8,919.88 L323.3,922.22 L322.8,919.43 L322.3,920.58 L321.8,920.23 L321.3,919.81 L320.8,920.13 L320.3,919.66 L319.8,919.44 L319.3,921.74 L318.8,919.87 L318.3,920.14 L317.8,919.46 L317.3,919.5 L316.8,919.82 L316.3,920.31 L315.8,920.83 L315.3,919.83 L314.8,919.93 L314.3,920.04 L313.8,919.59 L313.3,922.57 L312.8,919.43 L312.3,919.74 L311.8,921.81 L311.3,919.87 L310.8,921.45 L310.3,920.38 L309.8,919.89 L309.3,920.36 L308.8,919.62 L308.3,921.06 L307.8,922.46 L307.3,919.61 L306.8,920.5 L306.3,920.5 L305.8,921.02 L305.3,920.11 L304.8,920.63 L304.3,920.33 L303.8,920.19 L303.3,919.82 L302.8,920.77 L302.3,920.24 L301.8,920.5 L301.3,919.91 L300.8,921.38 L300.3,920.27 L299.8,921.93 L299.3,921.29 L298.8,920.33 L298.3,920.53 L297.8,919.82 L297.3,920.62 L296.8,921.05 L296.3,919.69 L295.8,919.62 L295.3,920.99 L294.8,920.78 L294.3,919.71 L293.8,920 L293.3,920.32 L292.8,920.04 L292.3,920.58 L291.8,920.72 L291.3,919.96 L290.8,920.38 L290.3,919.65 L289.8,920.88 L289.3,920.66 L288.8,920.77 L288.3,921.37 L287.8,920.66 L287.3,920.07 L286.8,920.26 L286.3,921.26 L285.8,919.94 L285.3,921.44 L284.8,919.58 L284.3,919.66 L283.8,919.56 L283.3,919.67 L282.8,921.73 L282.3,920.32 L281.8,919.91 L281.3,921.17 L280.8,919.69 L280.3,919.66 L279.8,919.6 L279.3,919.58 L278.8,920.39 L278.3,920.13 L277.8,919.83 L277.3,919.82 L276.8,920.64 L276.3,921.07 L275.8,919.59 L275.3,920.08 L274.8,920.42 L274.3,920.14 L273.8,920.16 L273.3,920.91 L272.8,920.25 L272.3,919.9 L271.8,919.62 L271.3,919.83 L270.8,919.81 L270.3,920.98 L269.8,919.96 L269.3,919.52 L268.8,919.86 L268.3,920.09 L267.8,919.5 L267.3,920.87 L266.8,919.98 L266.3,921.35 L265.8,920.46 L265.3,921.21 L264.8,921.38 L264.3,921.29 L263.8,920.52 L263.3,921.77 L262.8,919.82 L262.3,920.55 L261.8,921.87 L261.3,920.5 L260.8,920.73 L260.3,920.18 L259.8,920.99 L259.3,919.85 L258.8,919.67 L258.3,920.27 L257.8,919.83 L257.3,919.92 L256.8,920.99 L256.3,920.55 L255.8,919.51 L255.3,919.6 L254.8,921.63 L254.3,919.63 L253.8,919.89 L253.3,920.12 L252.8,919.82 L252.3,920.18 L251.8,920.15 L251.3,919.85 L250.8,920.85 L250.3,920.24 L249.8,920.09 L249.3,920.23 L248.8,920.36 L248.3,920.48 L247.8,920.36 L247.3,920.12 L246.8,920.15 L246.3,920.98 L245.8,919.69 L245.3,919.65 L244.8,921.11 L244.3,919.45 L243.8,920 L243.3,919.6 L242.8,919.65 L242.3,919.84 L241.8,919.83 L241.3,919.34 L240.8,920.45 L240.3,921.27 L239.8,920.39 L239.3,920.58 L238.8,920.63 L238.3,919.62 L237.8,920.76 L237.3,919.35 L236.8,920.03 L236.3,920.49 L235.8,919.44 L235.3,920.06 L234.8,919.93 L234.3,919.55 L233.8,919.44 L233.3,919.53 L232.8,919.99 L232.3,920.58 L231.8,919.8 L231.3,920.87 L230.8,919.94 L230.3,920.4 L229.8,919.74 L229.3,919.73 L228.8,919.94 L228.3,920.14 L227.8,920.66 L227.3,920.27 L226.8,920.06 L226.3,919.66 L225.8,919.43 L225.3,920.25 L224.8,920.6 L224.3,919.84 L223.8,919.92 L223.3,920.58 L222.8,919.66 L222.3,919.9 L221.8,919.4 L221.3,920.28 L220.8,920.36 L220.3,920.36 L219.8,919.44 L219.3,919.34 L218.8,920.18 L218.3,919.61 L217.8,920.85 L217.3,919.89 L216.8,919.93 L216.3,920.24 L215.8,919.34 L215.3,919.42 L214.8,919.58 L214.3,919.64 L213.8,919.99 L213.3,920.84 L212.8,920.8 L212.3,919.46 L211.8,920.1 L211.3,919.81 L210.8,920.33 L210.3,919.54 L209.8,920.18 L209.3,919.56 L208.8,922.41 L208.3,920.68 L207.8,922.35 L207.3,919.93 L206.8,920.73 L206.3,919.91 L205.8,919.92 L205.3,920.6 L204.8,919.4 L204.3,919.8 L203.8,920.36 L203.3,921.24 L202.8,920.54 L202.3,920.69 L201.8,921.38 L201.3,920.35 L200.8,920.2 L200.3,919.48 L199.8,920.24 L199.3,920.59 L198.8,921.03 L198.3,919.63 L197.8,920.55 L197.3,919.82 L196.8,919.93 L196.3,920 L195.8,919.56 L195.3,920.06 L194.8,919.7 L194.3,920.4 L193.8,919.8 L193.3,919.66 L192.8,919.59 L192.3,921.46 L191.8,920 L191.3,919.58 L190.8,919.77 L190.3,919.67 L189.8,920.11 L189.3,920.75 L188.8,920.32 L188.3,920.99 L187.8,921.05 L187.3,919.65 L186.8,920.26 L186.3,920.39 L185.8,920.66 L185.3,920.32 L184.8,920.08 L184.3,919.5 L183.8,919.84 L183.3,920.36 L182.8,921.69 L182.3,921.29 L181.8,920.89 L181.3,919.89 L180.8,920.65 L180.3,920.13 L179.8,920.21 L179.3,919.95 L178.8,920.84 L178.3,919.64 L177.8,920.17 L177.3,919.99 L176.8,920.59 L176.3,921.34 L175.8,919.81 L175.3,921.12 L174.8,921.45 L174.3,920.44 L173.8,920.54 L173.3,920.65 L172.8,919.96 L172.3,920.29 L171.8,921.33 L171.3,920.49 L170.8,920.05 L170.3,921.33 L169.8,920.12 L169.3,920.52 L168.8,920.06 L168.3,921.34 L167.8,920.27 L167.3,922.4 L166.8,920.52 L166.3,921.54 L165.8,920.45 L165.3,920.42 L164.8,921.69 L164.3,920.29 L163.8,920.56 L163.3,920.29 L162.8,922.65 L162.3,922.27 L161.8,921.25 L161.3,920.73 L160.8,920.98 L160.3,920.83 L159.8,920.37 L159.3,921.24 L158.8,920.44 L158.3,920.26 L157.8,921.01 L157.3,920.74 L156.8,919.96 L156.3,921.54 L155.8,920.42 L155.3,921.03 L154.8,921.21 L154.3,919.81 L153.8,921.9 L153.3,920.24 L152.8,919.79 L152.3,919.59 L151.8,919.64 L151.3,920.33 L150.8,921.23 L150.3,919.94 L149.8,919 L149.3,920.22 L148.8,919.63 L148.3,919.15 L147.8,919.01 L147.3,920.06 L146.8,919.32 L146.3,920.56 L145.8,919.43 L145.3,919.38 L144.8,919.55 L144.3,919.28 L143.8,919.89 L143.3,919.2 L142.8,919.58 L142.3,920.04 L141.8,920.46 L141.3,920.57 L140.8,923.63 L140.3,921.74 L139.8,923.21 Z" fill="#000" stroke="#000" stroke-width="0.6" stroke-linejoin="round"/>
<path d="M140.3,924.5 V915" stroke="#000" stroke-width="1.4"/>
<path d="M208.8,990.5 H411.8 V1141.8 H208.8 Z" fill="none" stroke="#000" stroke-width="1.3"/>
<path d="M242.63,1141.8v-2.5M276.47,1141.8v-2.5M310.3,1141.8v-2.5M344.13,1141.8v-2.5M377.97,1141.8v-2.5M208.8,1015.72h2.5M208.8,1040.93h2.5M208.8,1066.15h2.5M208.8,1091.37h2.5M208.8,1116.58h2.5" stroke="#000" stroke-width="0.9" fill="none"/>
<text x="205" y="996.8" text-anchor="end" font-family="Liberation Sans" font-size="14" fill="#111">10.25</text>
<text x="205" y="1021.68" text-anchor="end" font-family="Liberation Sans" font-size="14" fill="#111">10.2</text>
<text x="205" y="1046.56" text-anchor="end" font-family="Liberation Sans" font-size="14" fill="#111">10.15</text>
<text x="205" y="1071.44" text-anchor="end" font-family="Liberation Sans" font-size="14" fill="#111">10.1</text>
<text x="205" y="1096.32" text-anchor="end" font-family="Liberation Sans" font-size="14" fill="#111">10.05</text>
<text x="205" y="1121.2" text-anchor="end" font-family="Liberation Sans" font-size="14" fill="#111">10</text>
<text x="205" y="1146.08" text-anchor="end" font-family="Liberation Sans" font-size="14" fill="#111">9.95</text>
<text x="210.3" y="1161" text-anchor="middle" font-family="Liberation Sans" font-size="14" fill="#111">150</text>
<text x="244.13" y="1161" text-anchor="middle" font-family="Liberation Sans" font-size="14" fill="#111">160</text>
<text x="277.97" y="1161" text-anchor="middle" font-family="Liberation Sans" font-size="14" fill="#111">170</text>
<text x="311.8" y="1161" text-anchor="middle" font-family="Liberation Sans" font-size="14" fill="#111">180</text>
<text x="345.63" y="1161" text-anchor="middle" font-family="Liberation Sans" font-size="14" fill="#111">190</text>
<text x="379.47" y="1161" text-anchor="middle" font-family="Liberation Sans" font-size="14" fill="#111">200</text>
<text x="413.3" y="1161" text-anchor="middle" font-family="Liberation Sans" font-size="14" fill="#111">210</text>
<path d="M209.4,1054.3 L209.9,1054.43 L210.4,1053.4 L210.9,1053.22 L211.4,1052.59 L211.9,1053.4 L212.4,1052.24 L212.9,1051.12 L213.4,1052.9 L213.9,1051.78 L214.4,1050.91 L214.9,1050.81 L215.4,1052.12 L215.9,1051.01 L216.4,1050.63 L216.9,1050.05 L217.4,1049.9 L217.9,1050.34 L218.4,1049.82 L218.9,1048.75 L219.4,1047.96 L219.9,1051.21 L220.4,1048.63 L220.9,1055.43 L221.4,1056.53 L221.9,1059.87 L222.4,1063.07 L222.9,1062.94 L223.4,1065.23 L223.9,1064.78 L224.4,1062.11 L224.9,1061.3 L225.4,1060.54 L225.9,1059.01 L226.4,1057.66 L226.9,1057.4 L227.4,1061.93 L227.9,1063.87 L228.4,1067.52 L228.9,1069.42 L229.4,1072.15 L229.9,1066.11 L230.4,1065.44 L230.9,1063.14 L231.4,1059.48 L231.9,1058.52 L232.4,1056.3 L232.9,1054.79 L233.4,1051.43 L233.9,1049.89 L234.4,1049.11 L234.9,1048.49 L235.4,1047.86 L235.9,1044.82 L236.4,1045.3 L236.9,1044.44 L237.4,1040.98 L237.9,1044.15 L238.4,1042.09 L238.9,1041.99 L239.4,1042.9 L239.9,1043.19 L240.4,1041.63 L240.9,1041.45 L241.4,1044.39 L241.9,1044.03 L242.4,1043.25 L242.9,1046.04 L243.4,1046.96 L243.9,1047.95 L244.4,1042.82 L244.9,1048.69 L245.4,1048.39 L245.9,1048.97 L246.4,1041.5 L246.9,1048.48 L247.4,1051.39 L247.9,1049.35 L248.4,1052.23 L248.9,1052.93 L249.4,1052.16 L249.9,1053.24 L250.4,1050.83 L250.9,1053.99 L251.4,1052.58 L251.9,1055 L252.4,1054.9 L252.9,1056.66 L253.4,1057.29 L253.9,1057.94 L254.4,1059.26 L254.9,1060.48 L255.4,1061.21 L255.9,1061.88 L256.4,1062.2 L256.9,1063.92 L257.4,1064.99 L257.9,1064.88 L258.4,1065.72 L258.9,1054.89 L259.4,1063.08 L259.9,1066.55 L260.4,1067.11 L260.9,1067.02 L261.4,1067.17 L261.9,1064.05 L262.4,1059.97 L262.9,1067.38 L263.4,1071.25 L263.9,1071.93 L264.4,1072.81 L264.9,1070.83 L265.4,1072.86 L265.9,1073.13 L266.4,1072.58 L266.9,1068.28 L267.4,1067.95 L267.9,1066.36 L268.4,1065.69 L268.9,1067.39 L269.4,1067.38 L269.9,1070.17 L270.4,1073.03 L270.9,1074.89 L271.4,1076.82 L271.9,1076.75 L272.4,1080.38 L272.9,1082.94 L273.4,1080.82 L273.9,1078.78 L274.4,1077.12 L274.9,1074.02 L275.4,1073.21 L275.9,1071.29 L276.4,1068.47 L276.9,1066.2 L277.4,1064.82 L277.9,1059.39 L278.4,1062.56 L278.9,1065.33 L279.4,1060.71 L279.9,1064.23 L280.4,1071.09 L280.9,1073.08 L281.4,1072.02 L281.9,1073 L282.4,1072.4 L282.9,1072.46 L283.4,1071.33 L283.9,1071.3 L284.4,1066.91 L284.9,1068.8 L285.4,1068.6 L285.9,1066.15 L286.4,1068.66 L286.9,1069.28 L287.4,1070.34 L287.9,1069.66 L288.4,1071.8 L288.9,1071.18 L289.4,1071.06 L289.9,1073.03 L290.4,1063.98 L290.9,1073.61 L291.4,1064.45 L291.9,1068.5 L292.4,1062.32 L292.9,1070.01 L293.4,1067.45 L293.9,1065.01 L294.4,1066.11 L294.9,1066.41 L295.4,1063.06 L295.9,1061.25 L296.4,1062.01 L296.9,1062.11 L297.4,1059.48 L297.9,1058.92 L298.4,1058.19 L298.9,1055.32 L299.4,1054.6 L299.9,1053.17 L300.4,1058.07 L300.9,1058.68 L301.4,1058.55 L301.9,1056.31 L302.4,1059.99 L302.9,1057.11 L303.4,1056.75 L303.9,1053.07 L304.4,1060.16 L304.9,1058.8 L305.4,1058.44 L305.9,1059.87 L306.4,1058.39 L306.9,1057.74 L307.4,1055.27 L307.9,1056.62 L308.4,1054.89 L308.9,1055.15 L309.4,1053.38 L309.9,1055.33 L310.4,1053.91 L310.9,1055.87 L311.4,1056.22 L311.9,1055.77 L312.4,1054.84 L312.9,1057.55 L313.4,1053.58 L313.9,1057.34 L314.4,1058.54 L314.9,1056.65 L315.4,1057.41 L315.9,1060.55 L316.4,1061.29 L316.9,1060.93 L317.4,1063.13 L317.9,1063.11 L318.4,1058.09 L318.9,1062.28 L319.4,1063.34 L319.9,1062.87 L320.4,1061.82 L320.9,1060.82 L321.4,1057.1 L321.9,1058.57 L322.4,1054.87 L322.9,1057.75 L323.4,1055.33 L323.9,1056.21 L324.4,1050.08 L324.9,1053.05 L325.4,1053.16 L325.9,1052.3 L326.4,1050.19 L326.9,1043.56 L327.4,1049.05 L327.9,1046.96 L328.4,1035.97 L328.9,1045.3 L329.4,1042.66 L329.9,1033.88 L330.4,1040.37 L330.9,1038.54 L331.4,1044.3 L331.9,1048.63 L332.4,1054.27 L332.9,1059.89 L333.4,1066.48 L333.9,1067.82 L334.4,1064.65 L334.9,1063.56 L335.4,1066.72 L335.9,1065.55 L336.4,1063.47 L336.9,1064.66 L337.4,1063.9 L337.9,1064.9 L338.4,1063.88 L338.9,1063.51 L339.4,1063.47 L339.9,1061.88 L340.4,1061.35 L340.9,1061.86 L341.4,1061.24 L341.9,1059.59 L342.4,1058.69 L342.9,1053.44 L343.4,1059.85 L343.9,1056.46 L344.4,1057.38 L344.9,1058.36 L345.4,1059.64 L345.9,1053.1 L346.4,1056.11 L346.9,1058.79 L347.4,1059.27 L347.9,1054.85 L348.4,1058.09 L348.9,1054.58 L349.4,1056.75 L349.9,1053.25 L350.4,1056.72 L350.9,1056.33 L351.4,1055.31 L351.9,1055.04 L352.4,1054.23 L352.9,1051.45 L353.4,1053.81 L353.9,1054.54 L354.4,1055.6 L354.9,1055.31 L355.4,1055.79 L355.9,1055.23 L356.4,1055.77 L356.9,1057.05 L357.4,1050.83 L357.9,1054.99 L358.4,1054.76 L358.9,1052.37 L359.4,1051.44 L359.9,1048.68 L360.4,1049.95 L360.9,1048.18 L361.4,1046.76 L361.9,1047.51 L362.4,1046.93 L362.9,1041.59 L363.4,1049.74 L363.9,1047.78 L364.4,1049.82 L364.9,1049.66 L365.4,1050.4 L365.9,1046.87 L366.4,1051.82 L366.9,1048.82 L367.4,1051.35 L367.9,1050.03 L368.4,1042.63 L368.9,1050.46 L369.4,1049.2 L369.9,1048.72 L370.4,1046.23 L370.9,1044.32 L371.4,1042.65 L371.9,1036.91 L372.4,1036.62 L372.9,1037.41 L373.4,1033.63 L373.9,1036.79 L374.4,1042.94 L374.9,1042.47 L375.4,1044.1 L375.9,1050.34 L376.4,1052.12 L376.9,1050.47 L377.4,1056.06 L377.9,1058.06 L378.4,1061.03 L378.9,1064.64 L379.4,1068.22 L379.9,1067.36 L380.4,1065.08 L380.9,1063.18 L381.4,1062.33 L381.9,1060.24 L382.4,1059.09 L382.9,1057.69 L383.4,1054.72 L383.9,1056.54 L384.4,1053.45 L384.9,1054.22 L385.4,1054.61 L385.9,1048.9 L386.4,1054.92 L386.9,1055.41 L387.4,1055.52 L387.9,1051.78 L388.4,1052.94 L388.9,1053.53 L389.4,1054.38 L389.9,1051.07 L390.4,1053.01 L390.9,1051.97 L391.4,1050.18 L391.9,1050.71 L392.4,1048.47 L392.9,1044.31 L393.4,1047.81 L393.9,1045.43 L394.4,1044.02 L394.9,1047.55 L395.4,1048.38 L395.9,1048.08 L396.4,1048.34 L396.9,1047.84 L397.4,1048.75 L397.9,1048.24 L398.4,1049.57 L398.9,1046.31 L399.4,1050.27 L399.9,1051.98 L400.4,1050.14 L400.9,1056.24 L401.4,1052.99 L401.9,1057.08 L402.4,1060.63 L402.9,1059.44 L403.4,1060.31 L403.9,1060.53 L404.4,1055.07 L404.9,1055.08 L405.4,1060.24 L405.9,1059.84 L406.4,1059.71 L406.9,1059.45 L407.4,1060.28 L407.9,1060.48 L408.4,1059.15 L408.9,1058.74 L409.4,1058.2 L409.9,1061.33 L410.4,1061.3 L410.9,1061.05 L410.9,1068.51 L410.4,1068.4 L409.9,1068.19 L409.4,1067.95 L408.9,1070.12 L408.4,1074.16 L407.9,1065.88 L407.4,1067.8 L406.9,1069.5 L406.4,1074.16 L405.9,1066.92 L405.4,1070.23 L404.9,1068.06 L404.4,1066.49 L403.9,1067.12 L403.4,1068.59 L402.9,1073.01 L402.4,1067.96 L401.9,1065.9 L401.4,1064.61 L400.9,1062.15 L400.4,1063.36 L399.9,1060.86 L399.4,1059.69 L398.9,1057.25 L398.4,1059.05 L397.9,1059.01 L397.4,1055.27 L396.9,1055.01 L396.4,1054.4 L395.9,1054.56 L395.4,1055.16 L394.9,1053.94 L394.4,1055.71 L393.9,1053.85 L393.4,1059.95 L392.9,1057 L392.4,1060.01 L391.9,1059.06 L391.4,1058.8 L390.9,1058.11 L390.4,1061.48 L389.9,1062.44 L389.4,1065.94 L388.9,1061.15 L388.4,1062.22 L387.9,1060.81 L387.4,1061.67 L386.9,1063.94 L386.4,1062.67 L385.9,1066.35 L385.4,1063.38 L384.9,1063.07 L384.4,1063.09 L383.9,1062.47 L383.4,1064.25 L382.9,1064.02 L382.4,1067.48 L381.9,1074.64 L381.4,1070.17 L380.9,1073.78 L380.4,1072.74 L379.9,1075.21 L379.4,1074.63 L378.9,1072.06 L378.4,1069.3 L377.9,1066.49 L377.4,1064.59 L376.9,1062.3 L376.4,1060.52 L375.9,1056.74 L375.4,1054.72 L374.9,1051.59 L374.4,1050.75 L373.9,1047.57 L373.4,1046.62 L372.9,1043.61 L372.4,1043.65 L371.9,1047.9 L371.4,1048.24 L370.9,1052.94 L370.4,1052.83 L369.9,1056.06 L369.4,1058.35 L368.9,1058.85 L368.4,1061.04 L367.9,1058.59 L367.4,1059.23 L366.9,1058.55 L366.4,1062.51 L365.9,1059.35 L365.4,1059.17 L364.9,1057.84 L364.4,1057.19 L363.9,1059.51 L363.4,1056.5 L362.9,1058.63 L362.4,1054.58 L361.9,1054.41 L361.4,1057.01 L360.9,1057.19 L360.4,1055.93 L359.9,1056.79 L359.4,1059.47 L358.9,1060.1 L358.4,1062.56 L357.9,1062.93 L357.4,1063.42 L356.9,1064.06 L356.4,1068.79 L355.9,1061.78 L355.4,1064.28 L354.9,1062.59 L354.4,1061.94 L353.9,1061.27 L353.4,1062.1 L352.9,1060.39 L352.4,1060.73 L351.9,1062.26 L351.4,1062.93 L350.9,1063.05 L350.4,1065.32 L349.9,1064.13 L349.4,1065.02 L348.9,1069.99 L348.4,1066.75 L347.9,1065.87 L347.4,1065.31 L346.9,1065.23 L346.4,1065.16 L345.9,1067.13 L345.4,1065.79 L344.9,1065.13 L344.4,1065.41 L343.9,1067.72 L343.4,1065.4 L342.9,1066.35 L342.4,1069.77 L341.9,1067.32 L341.4,1073.81 L340.9,1071.08 L340.4,1071.58 L339.9,1069.91 L339.4,1069.27 L338.9,1070.35 L338.4,1072.79 L337.9,1071.72 L337.4,1071.06 L336.9,1071.55 L336.4,1072.5 L335.9,1072.52 L335.4,1074.32 L334.9,1073.33 L334.4,1079.56 L333.9,1074.31 L333.4,1074.93 L332.9,1071.05 L332.4,1062.76 L331.9,1057.88 L331.4,1050.04 L330.9,1047.45 L330.4,1046.8 L329.9,1048.71 L329.4,1050.48 L328.9,1052.77 L328.4,1053.39 L327.9,1056.67 L327.4,1058.78 L326.9,1066.07 L326.4,1064.3 L325.9,1060.48 L325.4,1060.51 L324.9,1061.52 L324.4,1061.3 L323.9,1066.82 L323.4,1065.32 L322.9,1064.79 L322.4,1064.79 L321.9,1065.56 L321.4,1067.89 L320.9,1070.29 L320.4,1068.69 L319.9,1072.87 L319.4,1070.16 L318.9,1072.08 L318.4,1070.16 L317.9,1070.13 L317.4,1069.55 L316.9,1069.16 L316.4,1070.19 L315.9,1072.39 L315.4,1068.73 L314.9,1066.64 L314.4,1066.14 L313.9,1065.5 L313.4,1065.32 L312.9,1065.38 L312.4,1064.52 L311.9,1064.07 L311.4,1062.78 L310.9,1062.71 L310.4,1064.13 L309.9,1071.5 L309.4,1061.35 L308.9,1066.26 L308.4,1061.62 L307.9,1064.46 L307.4,1063.25 L306.9,1065.44 L306.4,1066.33 L305.9,1065.93 L305.4,1066.97 L304.9,1067.04 L304.4,1071.53 L303.9,1067.56 L303.4,1066.74 L302.9,1068.01 L302.4,1066.58 L301.9,1065.35 L301.4,1068.6 L300.9,1064.17 L300.4,1064.51 L299.9,1066.28 L299.4,1064.34 L298.9,1067.61 L298.4,1065.3 L297.9,1068.84 L297.4,1066.9 L296.9,1068.4 L296.4,1072.76 L295.9,1070.95 L295.4,1071.32 L294.9,1075.83 L294.4,1082.87 L293.9,1076.94 L293.4,1080.29 L292.9,1079.41 L292.4,1078.09 L291.9,1078.01 L291.4,1079.77 L290.9,1082.23 L290.4,1081.74 L289.9,1079.83 L289.4,1083.43 L288.9,1079.36 L288.4,1079.04 L287.9,1078.01 L287.4,1077.9 L286.9,1076.54 L286.4,1077.25 L285.9,1077.32 L285.4,1075.72 L284.9,1077.39 L284.4,1080.36 L283.9,1078.9 L283.4,1079.55 L282.9,1080 L282.4,1087.59 L281.9,1079.39 L281.4,1085.38 L280.9,1079.31 L280.4,1079.79 L279.9,1076.5 L279.4,1075.8 L278.9,1073.57 L278.4,1072.78 L277.9,1071.13 L277.4,1072.34 L276.9,1073.83 L276.4,1074.82 L275.9,1077.66 L275.4,1079.02 L274.9,1083.08 L274.4,1085.52 L273.9,1087.5 L273.4,1087 L272.9,1093.51 L272.4,1088.48 L271.9,1086.18 L271.4,1085.08 L270.9,1081.59 L270.4,1080 L269.9,1080.75 L269.4,1076.05 L268.9,1078.81 L268.4,1082.33 L267.9,1078.32 L267.4,1076.83 L266.9,1079.95 L266.4,1079.3 L265.9,1085.21 L265.4,1079.52 L264.9,1079.58 L264.4,1079.06 L263.9,1077.76 L263.4,1076.89 L262.9,1078.75 L262.4,1076.67 L261.9,1078.83 L261.4,1074.97 L260.9,1075.96 L260.4,1073.44 L259.9,1076.11 L259.4,1073.64 L258.9,1072.27 L258.4,1072.64 L257.9,1070.98 L257.4,1074.78 L256.9,1069.82 L256.4,1069.63 L255.9,1068.23 L255.4,1068.68 L254.9,1067.39 L254.4,1065.5 L253.9,1065.06 L253.4,1068.14 L252.9,1062.57 L252.4,1064.9 L251.9,1063.55 L251.4,1068.61 L250.9,1062.1 L250.4,1060.35 L249.9,1062.41 L249.4,1059.62 L248.9,1059.75 L248.4,1058.48 L247.9,1067.29 L247.4,1057.36 L246.9,1056.43 L246.4,1055.78 L245.9,1060.6 L245.4,1056.68 L244.9,1056.51 L244.4,1060.72 L243.9,1054.94 L243.4,1053.09 L242.9,1054.39 L242.4,1051.95 L241.9,1054.74 L241.4,1053.14 L240.9,1051.86 L240.4,1053.38 L239.9,1049.99 L239.4,1051.2 L238.9,1050.7 L238.4,1051.89 L237.9,1050.04 L237.4,1054.28 L236.9,1051.31 L236.4,1054.66 L235.9,1052.69 L235.4,1053.42 L234.9,1054.09 L234.4,1056.15 L233.9,1056.45 L233.4,1058.7 L232.9,1063.42 L232.4,1064.08 L231.9,1067.01 L231.4,1068.51 L230.9,1077.3 L230.4,1075.54 L229.9,1076.41 L229.4,1079.01 L228.9,1085.11 L228.4,1076.32 L227.9,1072.76 L227.4,1069.03 L226.9,1065.18 L226.4,1063.4 L225.9,1067.01 L225.4,1066.49 L224.9,1074.94 L224.4,1069.47 L223.9,1070.35 L223.4,1076.2 L222.9,1075.91 L222.4,1069.99 L221.9,1068.07 L221.4,1066.65 L220.9,1068.05 L220.4,1060.91 L219.9,1059.59 L219.4,1055.78 L218.9,1056.23 L218.4,1060.32 L217.9,1056.17 L217.4,1057.16 L216.9,1058.38 L216.4,1056.98 L215.9,1057.25 L215.4,1058.36 L214.9,1060.03 L214.4,1060.28 L213.9,1058.4 L213.4,1059.13 L212.9,1059.06 L212.4,1059.09 L211.9,1059.98 L211.4,1059.82 L210.9,1060.18 L210.4,1059.72 L209.9,1060.93 L209.4,1062.04 Z" fill="#000" stroke="#000" stroke-width="0.6" stroke-linejoin="round"/>
<path d="M208.4,1057.39 L209.5,1084 L210.6,1057.39 ZM228,1076.97 L229.1,1088 L230.2,1076.97 ZM234.1,1050.91 L235.2,1075.8 L236.3,1050.91 ZM257.8,1069.22 L258.9,1102.5 L260,1069.22 ZM264.4,1077.01 L265.5,1092.8 L266.6,1077.01 ZM271.7,1086.6 L272.8,1112.2 L273.9,1086.6 ZM277.7,1070.47 L278.8,1097.6 L279.9,1070.47 ZM286.2,1073.36 L287.3,1098.9 L288.4,1073.36 ZM292.3,1072.14 L293.4,1098.9 L294.5,1072.14 ZM303.2,1064.9 L304.3,1083 L305.4,1064.9 ZM320.2,1063.65 L321.3,1080.7 L322.4,1063.65 ZM332.3,1072.08 L333.4,1084.3 L334.5,1072.08 ZM339.6,1064.88 L340.7,1081.9 L341.8,1064.88 ZM354.1,1058.81 L355.2,1077 L356.3,1058.81 ZM379.6,1068.15 L380.7,1098.9 L381.8,1068.15 ZM392.9,1050.41 L394,1073.4 L395.1,1050.41 ZM236.5,1047.31 L237.6,1035.3 L238.7,1047.31 ZM276.5,1067.4 L277.6,1049.1 L278.7,1067.4 ZM285,1072.18 L286.1,1050.3 L287.2,1072.18 ZM329.9,1042.08 L331,1037 L332.1,1042.08 ZM371.6,1039.44 L372.7,1035.3 L373.8,1039.44 ZM310.5,1060.07 L311.6,1050.3 L312.7,1060.07 ZM359,1053.55 L360.1,1043.6 L361.2,1053.55 ZM392.9,1050.41 L394,1043.6 L395.1,1050.41 Z" fill="#000" stroke="#000" stroke-width="0.8"/>
<ellipse cx="230.8" cy="915.9" rx="18.8" ry="10.3" fill="none" stroke="#e8262a" stroke-width="1.4"/>
<path d="M213.6,919.5 L208.8,990.5 M251.3,917.6 L411.8,990.5" stroke="#111" stroke-width="1.2" fill="none"/>
<text x="483.8" y="874.6" font-family="Liberation Sans" font-size="9.3" fill="#19e3ee">Mean:</text>
<text x="512.5" y="874.6" font-family="Liberation Sans" font-size="9.3" fill="#19e3ee">-18.832</text>
<text x="546.6" y="874.6" font-family="Liberation Sans" font-size="9.3" fill="#19e3ee">,</text>
<svg x="553" y="860" width="32.2" height="20" overflow="hidden"><text x="0.2" y="14.6" font-family="Liberation Sans" font-size="9.3" fill="#19e3ee">123.595</text></svg>
<text x="585.2" y="874.6" font-family="Liberation Sans" font-size="9.3" fill="#000">Azimuth: -0.034°</text>
<text x="670.3" y="874.6" font-family="Liberation Sans" font-size="9.3" fill="#000">Δx: 12.487</text>
<text x="755.3" y="874.6" font-family="Liberation Sans" font-size="9.3" fill="#000">RMS: 4.514</text>
<text x="483.8" y="885.6" font-family="Liberation Sans" font-size="9.3" fill="#2c22cc">Last:</text>
<text x="512.5" y="885.6" font-family="Liberation Sans" font-size="9.3" fill="#2c22cc">-17.792</text>
<text x="546.6" y="885.6" font-family="Liberation Sans" font-size="9.3" fill="#2c22cc">,</text>
<svg x="553" y="875" width="32.2" height="20" overflow="hidden"><text x="0.2" y="10.6" font-family="Liberation Sans" font-size="9.3" fill="#2c22cc">126.296</text></svg>
<text x="585.2" y="885.6" font-family="Liberation Sans" font-size="9.3" fill="#000">Δ: 12.771</text>
<text x="670.3" y="885.6" font-family="Liberation Sans" font-size="9.3" fill="#000">Δy: 13.049</text>
<text x="755.3" y="885.6" font-family="Liberation Sans" font-size="9.3" fill="#f040f0">Origin: (-16.000,129.000)</text>
<rect x="500.3" y="897.6" width="385" height="276.5" fill="none" stroke="#6c6c6c" stroke-width="1.1"/>
<path d="M501.3,1036.5H884.3 M693.4,898.6V1173.1" stroke="#333" stroke-width="0.9" stroke-dasharray="2 2" fill="none"/>
<text x="499" y="900.8" font-family="Liberation Sans" font-size="9" fill="#000" text-anchor="end">252 um</text>
<text x="499" y="1039.9" font-family="Liberation Sans" font-size="9" fill="#000" text-anchor="end">126 um</text>
<text x="498.4" y="1178.2" font-family="Liberation Sans" font-size="9" fill="#000" text-anchor="end">-0 um</text>
<text x="483.7" y="1186.8" font-family="Liberation Sans" font-size="9" fill="#000">-139 um</text>
<text x="693.2" y="1186.8" font-family="Liberation Sans" font-size="9" fill="#000" text-anchor="middle">-12 um</text>
<text x="901.5" y="1186.8" font-family="Liberation Sans" font-size="9" fill="#000" text-anchor="end">115 um</text>
<path d="M668.23,1028.23 L670.21,1026.57 L672.86,1025.91 L676.83,1025.58 L680.13,1026.24 L682.12,1026.57 L683.11,1024.92 L684.43,1025.25 L684.76,1027.24 L686.08,1028.23 L688.07,1029.22 L690.05,1028.23 L692.04,1027.9 L693.36,1026.24 L694.02,1024.92 L695.34,1025.58 L695.67,1027.24 L694.68,1028.89 L695.01,1032.2 L696.67,1032.86 L697.99,1032.2 L698.98,1033.85 L700.63,1036.16 L700.3,1037.49 L697.99,1037.82 L695.34,1036.83 L694.68,1038.48 L694.02,1040.46 L694.68,1041.79 L693.36,1042.78 L692.04,1044.1 L689.39,1045.09 L687.41,1046.08 L685.42,1048.07 L683.44,1047.41 L681.46,1048.07 L679.47,1047.41 L677.49,1048.07 L674.84,1048.07 L672.86,1047.74 L672.53,1045.42 L670.87,1043.44 L669.22,1042.12 L668.56,1040.79 L669.22,1038.81 L667.57,1037.49 L666.57,1033.85 L667.24,1032.2 L667.9,1030.54 Z" fill="#ff2d00"/>
<path d="M683.5,1034.5 l6,-6 M684.5,1028.5 l5,5" stroke="#111" stroke-width="1.1"/>
<rect x="685" y="1030.2" width="3.4" height="3.4" fill="#ff40ff"/>
<rect x="683.4" y="1033.6" width="2.4" height="2.4" fill="#2020d0"/>
<path d="M679.4,1037.8 h6.2 M682.5,1034.7 v6.2" stroke="#20f0f0" stroke-width="1.6"/>
<text x="55" y="374.8" textLength="334.4" font-family="Liberation Sans" font-style="italic" font-size="16.4" fill="#141414" stroke="#141414" stroke-width="0.35" lengthAdjust="spacingAndGlyphs">Pulse form at 1064 nm wavelength: Single shot.</text>
<text x="495" y="374.8" textLength="329.5" font-family="Liberation Sans" font-style="italic" font-size="16.4" fill="#141414" stroke="#141414" stroke-width="0.35" lengthAdjust="spacingAndGlyphs">Pulse form at 1064 nm wavelength: 10<tspan font-size="10" dy="-6">5</tspan><tspan dy="6"> pulses.</tspan></text>
<text x="58.5" y="794.8" textLength="253.5" font-family="Liberation Sans" font-style="italic" font-size="16.4" fill="#141414" stroke="#141414" stroke-width="0.35" lengthAdjust="spacingAndGlyphs">Laser output spectrum: Linear scale.</text>
<text x="54.8" y="816.3" textLength="360.2" font-family="Liberation Sans" font-style="italic" font-size="16.4" fill="#141414" stroke="#141414" stroke-width="0.35" lengthAdjust="spacingAndGlyphs">The measured spectral width is instrument-limited.</text>
<text x="499.4" y="794.8" textLength="295.4" font-family="Liberation Sans" font-style="italic" font-size="16.4" fill="#141414" stroke="#141414" stroke-width="0.35" lengthAdjust="spacingAndGlyphs">Laser output spectrum: Logarithmic scale.</text>
<text x="496.2" y="816.3" textLength="313.8" font-family="Liberation Sans" font-style="italic" font-size="16.4" fill="#141414" stroke="#141414" stroke-width="0.35" lengthAdjust="spacingAndGlyphs">Side-mode suppression is better than -25 dB.</text>
<text x="53.9" y="1268.7" textLength="379.6" font-family="Liberation Sans" font-style="italic" font-size="16.4" fill="#141414" stroke="#141414" stroke-width="0.35" lengthAdjust="spacingAndGlyphs">Long-term stability of laser output power at 1064 nm.</text>
<text x="495.9" y="1220.5" textLength="252.7" font-family="Liberation Sans" font-style="italic" font-size="16.4" fill="#141414" stroke="#141414" stroke-width="0.35" lengthAdjust="spacingAndGlyphs">Beam pointing stability at 1064 nm.</text>
<text x="608.8" y="1281.6" textLength="186.8" lengthAdjust="spacingAndGlyphs" font-family="Liberation Sans" font-style="italic" font-size="16" fill="#2c3c8e">L<tspan font-size="11.9">ASERS</tspan>, O<tspan font-size="11.9">PTICS</tspan>, E<tspan font-size="11.9">LECTRONICS</tspan></text>
<rect x="804.9" y="1213" width="99.2" height="110" rx="9.5" fill="#0c2b7b"/>
<rect x="813.5" y="1221.5" width="82.3" height="100" rx="6" fill="#fff"/>
<line x1="860.3" y1="1233.3" x2="860.3" y2="1284" stroke="#c3c9df" stroke-width="0.9"/>
<path d="M838.8,1230.4v29.6 M823.8,1245.2h30 M827.2,1235.2l23.2,20 M827.2,1255.2l23.2,-20" stroke="#0c2b7b" stroke-width="6.1" stroke-linecap="round" fill="none"/>
<path d="M813.2,1291 C813.4,1271 820,1258 832.5,1246.5 L836.5,1250.5 C826,1261 819.5,1274 818.6,1291 Z" fill="#0c2b7b"/>
<path d="M857.2,1232.7 C866,1227.2 875,1225.6 881.5,1229.4 C887,1233 888.6,1240 888.6,1248 L888.6,1291 L880.6,1291 L880.6,1241 C880.5,1235 877.5,1230.6 871.5,1230.3 C866,1230.1 861,1231.8 857.4,1233.8 Z" fill="#0c2b7b"/>
<path d="M853.3,1291 L895.8,1247.7 L895.8,1259.9 L865.1,1291 Z" fill="#0c2b7b"/>
<text x="903.2" y="1221" font-family="Liberation Sans" font-weight="bold" font-size="9.5" fill="#1a1a50">™</text>
</svg>
</body></html>
